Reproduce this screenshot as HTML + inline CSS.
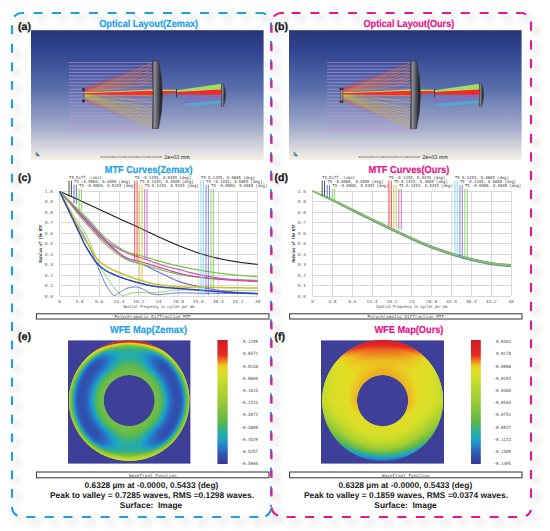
<!DOCTYPE html>
<html><head><meta charset="utf-8"><title>Figure</title><style>
html,body{margin:0;padding:0;background:#fff;}
#root{position:relative;width:550px;height:531px;overflow:hidden;background:#fff;}
#root svg{position:absolute;left:0;top:0;}
#root canvas{position:absolute;}
</style></head><body><div id="root"><svg width="550" height="531" viewBox="0 0 550 531" text-rendering="geometricPrecision">
<defs>
 <linearGradient id="bg" x1="0" y1="0" x2="0" y2="1">
  <stop offset="0" stop-color="#2a377a"/>
  <stop offset="0.15" stop-color="#2f4390"/>
  <stop offset="0.45" stop-color="#5a6fac"/>
  <stop offset="0.75" stop-color="#a3abca"/>
  <stop offset="0.92" stop-color="#dcdbe0"/>
  <stop offset="1" stop-color="#f4f1e6"/>
 </linearGradient>
 <linearGradient id="mir" x1="0" y1="0" x2="1" y2="0">
  <stop offset="0" stop-color="#3c3c44"/>
  <stop offset="0.22" stop-color="#8e8e96"/>
  <stop offset="0.4" stop-color="#6e6e76"/>
  <stop offset="0.7" stop-color="#3a3a42"/>
  <stop offset="1" stop-color="#18181d"/>
 </linearGradient>
 <linearGradient id="cbar" x1="0" y1="0" x2="0" y2="1">
  <stop offset="0.000" stop-color="rgb(200,28,40)"/>
  <stop offset="0.060" stop-color="rgb(222,32,34)"/>
  <stop offset="0.120" stop-color="rgb(228,42,36)"/>
  <stop offset="0.160" stop-color="rgb(240,110,32)"/>
  <stop offset="0.200" stop-color="rgb(236,190,32)"/>
  <stop offset="0.230" stop-color="rgb(228,220,36)"/>
  <stop offset="0.300" stop-color="rgb(210,222,40)"/>
  <stop offset="0.380" stop-color="rgb(184,214,44)"/>
  <stop offset="0.470" stop-color="rgb(164,206,52)"/>
  <stop offset="0.570" stop-color="rgb(128,194,62)"/>
  <stop offset="0.670" stop-color="rgb(90,182,80)"/>
  <stop offset="0.730" stop-color="rgb(48,176,144)"/>
  <stop offset="0.780" stop-color="rgb(32,168,184)"/>
  <stop offset="0.830" stop-color="rgb(32,144,208)"/>
  <stop offset="0.880" stop-color="rgb(40,112,192)"/>
  <stop offset="0.930" stop-color="rgb(48,80,176)"/>
  <stop offset="1.000" stop-color="rgb(58,58,152)"/>
 </linearGradient>
 <radialGradient id="wfeE" cx="0.5" cy="0.5" r="0.5" gradientUnits="objectBoundingBox">
  <stop offset="0.42" stop-color="#6cbf44"/>
  <stop offset="0.6" stop-color="#30b0a0"/>
  <stop offset="0.75" stop-color="#2a78c8"/>
  <stop offset="0.88" stop-color="#40b480"/>
  <stop offset="0.95" stop-color="#98cc38"/>
  <stop offset="1" stop-color="#c8d830"/>
 </radialGradient>
 <radialGradient id="wfeF" cx="0.5" cy="-0.25" r="1.3" gradientUnits="objectBoundingBox">
  <stop offset="0.19" stop-color="#d81c24"/>
  <stop offset="0.28" stop-color="#f07a20"/>
  <stop offset="0.38" stop-color="#e8dc24"/>
  <stop offset="0.6" stop-color="#dcdc28"/>
  <stop offset="0.7" stop-color="#b8d42c"/>
  <stop offset="0.8" stop-color="#70c040"/>
  <stop offset="0.88" stop-color="#20a8c8"/>
  <stop offset="0.96" stop-color="#3a50b0"/>
 </radialGradient>
 <filter id="blur4" x="-50%" y="-50%" width="200%" height="200%"><feGaussianBlur stdDeviation="3"/></filter>
 <clipPath id="annE"><path d="M68.9,400.6 a60.3,60.3 0 1,0 120.6,0 a60.3,60.3 0 1,0 -120.6,0 Z M103.7,400.6 a25.5,25.5 0 1,1 51,0 a25.5,25.5 0 1,1 -51,0 Z" clip-rule="evenodd"/></clipPath>
 <filter id="blur3" x="-10%" y="-10%" width="120%" height="120%"><feGaussianBlur stdDeviation="3.6"/></filter>
</defs>

<g transform="translate(5,5)" filter="url(#blur3)" opacity="0.3"><line x1="33.5" y1="13" x2="261" y2="13" stroke="#9a9a9a" stroke-width="5" stroke-dasharray="9.0 9.50"/><line x1="12" y1="25.3" x2="12" y2="507" stroke="#9a9a9a" stroke-width="5" stroke-dasharray="8.8 9.75"/><line x1="26.2" y1="517" x2="261" y2="517" stroke="#9a9a9a" stroke-width="5" stroke-dasharray="9.0 9.60"/><line x1="271" y1="22.4" x2="271" y2="507" stroke="#9a9a9a" stroke-width="5" stroke-dasharray="9.0 9.55"/><path d="M14.34,16.57 A10,10 0 0 1 22,13 L24,13" fill="none" stroke="#9a9a9a" stroke-width="5"/><path d="M256,13 L261,13 A10,10 0 0 1 266,14.34" fill="none" stroke="#9a9a9a" stroke-width="5"/><path d="M12,507 A10,10 0 0 0 17.5,515.8" fill="none" stroke="#9a9a9a" stroke-width="5"/><path d="M265.5,516.2 A10,10 0 0 0 271,509" fill="none" stroke="#9a9a9a" stroke-width="5"/><line x1="291.6" y1="13" x2="521" y2="13" stroke="#9a9a9a" stroke-width="5" stroke-dasharray="9.0 9.80"/><line x1="531" y1="21.6" x2="531" y2="507" stroke="#9a9a9a" stroke-width="5" stroke-dasharray="9.2 9.48"/><line x1="286.6" y1="517" x2="521" y2="517" stroke="#9a9a9a" stroke-width="5" stroke-dasharray="9.0 9.46"/><line x1="271.5" y1="24.7" x2="271.5" y2="507" stroke="#9a9a9a" stroke-width="5" stroke-dasharray="8.0 10.55"/><path d="M273.84,16.57 A10,10 0 0 1 281.5,13 L284,13" fill="none" stroke="#9a9a9a" stroke-width="5"/><path d="M516,13 L521,13 A10,10 0 0 1 526,14.34" fill="none" stroke="#9a9a9a" stroke-width="5"/><path d="M271.5,507.5 A10,10 0 0 0 278,515.6" fill="none" stroke="#9a9a9a" stroke-width="5"/><path d="M526,516 A10,10 0 0 0 531,510" fill="none" stroke="#9a9a9a" stroke-width="5"/></g>
<line x1="33.5" y1="13" x2="261" y2="13" stroke="#1c9fe3" stroke-width="2.1" stroke-dasharray="9.0 9.50"/><line x1="12" y1="25.3" x2="12" y2="507" stroke="#1c9fe3" stroke-width="2.1" stroke-dasharray="8.8 9.75"/><line x1="26.2" y1="517" x2="261" y2="517" stroke="#1c9fe3" stroke-width="2.1" stroke-dasharray="9.0 9.60"/><line x1="271" y1="22.4" x2="271" y2="507" stroke="#1c9fe3" stroke-width="2.1" stroke-dasharray="9.0 9.55"/><path d="M14.34,16.57 A10,10 0 0 1 22,13 L24,13" fill="none" stroke="#1c9fe3" stroke-width="2.1"/><path d="M256,13 L261,13 A10,10 0 0 1 266,14.34" fill="none" stroke="#1c9fe3" stroke-width="2.1"/><path d="M12,507 A10,10 0 0 0 17.5,515.8" fill="none" stroke="#1c9fe3" stroke-width="2.1"/><path d="M265.5,516.2 A10,10 0 0 0 271,509" fill="none" stroke="#1c9fe3" stroke-width="2.1"/>
<line x1="291.6" y1="13" x2="521" y2="13" stroke="#e6168c" stroke-width="2.1" stroke-dasharray="9.0 9.80"/><line x1="531" y1="21.6" x2="531" y2="507" stroke="#e6168c" stroke-width="2.1" stroke-dasharray="9.2 9.48"/><line x1="286.6" y1="517" x2="521" y2="517" stroke="#e6168c" stroke-width="2.1" stroke-dasharray="9.0 9.46"/><line x1="271.5" y1="24.7" x2="271.5" y2="507" stroke="#e6168c" stroke-width="2.1" stroke-dasharray="8.0 10.55"/><path d="M273.84,16.57 A10,10 0 0 1 281.5,13 L284,13" fill="none" stroke="#e6168c" stroke-width="2.1"/><path d="M516,13 L521,13 A10,10 0 0 1 526,14.34" fill="none" stroke="#e6168c" stroke-width="2.1"/><path d="M271.5,507.5 A10,10 0 0 0 278,515.6" fill="none" stroke="#e6168c" stroke-width="2.1"/><path d="M526,516 A10,10 0 0 0 531,510" fill="none" stroke="#e6168c" stroke-width="2.1"/>
<text x="18" y="30" font-family="Liberation Sans, sans-serif" font-weight="bold" font-size="10.6" fill="#1a1a1a" stroke="#1a1a1a" stroke-width="0.3">(a)</text>
<text x="274.5" y="30" font-family="Liberation Sans, sans-serif" font-weight="bold" font-size="10.6" fill="#1a1a1a" stroke="#1a1a1a" stroke-width="0.3">(b)</text>
<text x="18" y="181.1" font-family="Liberation Sans, sans-serif" font-weight="bold" font-size="10.6" fill="#1a1a1a" stroke="#1a1a1a" stroke-width="0.3">(c)</text>
<text x="274.5" y="181.1" font-family="Liberation Sans, sans-serif" font-weight="bold" font-size="10.6" fill="#1a1a1a" stroke="#1a1a1a" stroke-width="0.3">(d)</text>
<text x="18" y="340" font-family="Liberation Sans, sans-serif" font-weight="bold" font-size="10.6" fill="#1a1a1a" stroke="#1a1a1a" stroke-width="0.3">(e)</text>
<text x="274.5" y="340" font-family="Liberation Sans, sans-serif" font-weight="bold" font-size="10.6" fill="#1a1a1a" stroke="#1a1a1a" stroke-width="0.3">(f)</text>
<text x="99.2" y="27.4" font-family="Liberation Sans, sans-serif" font-weight="bold" font-size="10.2" fill="#1ea2e6" stroke="#1ea2e6" stroke-width="0.2" textLength="99.0" lengthAdjust="spacingAndGlyphs">Optical Layout(Zemax)</text>
<text x="363.5" y="27.4" font-family="Liberation Sans, sans-serif" font-weight="bold" font-size="10.2" fill="#e6168c" stroke="#e6168c" stroke-width="0.2" textLength="90.8" lengthAdjust="spacingAndGlyphs">Optical Layout(Ours)</text>
<text x="104.8" y="172.5" font-family="Liberation Sans, sans-serif" font-weight="bold" font-size="10.2" fill="#1ea2e6" stroke="#1ea2e6" stroke-width="0.2" textLength="87.8" lengthAdjust="spacingAndGlyphs">MTF Curves(Zemax)</text>
<text x="368.5" y="172.5" font-family="Liberation Sans, sans-serif" font-weight="bold" font-size="10.2" fill="#e6168c" stroke="#e6168c" stroke-width="0.2" textLength="80.8" lengthAdjust="spacingAndGlyphs">MTF Curves(Ours)</text>
<text x="110" y="333.1" font-family="Liberation Sans, sans-serif" font-weight="bold" font-size="10.2" fill="#1ea2e6" stroke="#1ea2e6" stroke-width="0.2" textLength="77.0" lengthAdjust="spacingAndGlyphs">WFE Map(Zemax)</text>
<text x="374.4" y="333.1" font-family="Liberation Sans, sans-serif" font-weight="bold" font-size="10.2" fill="#e6168c" stroke="#e6168c" stroke-width="0.2" textLength="69.0" lengthAdjust="spacingAndGlyphs">WFE Map(Ours)</text>
<rect x="31" y="30.5" width="232.60000000000002" height="129.5" fill="url(#bg)"/>
<line x1="31" y1="30.8" x2="263.6" y2="30.8" stroke="#2a2d60" stroke-width="0.8"/>
<g transform="translate(0,0)"><line x1="69" y1="62.60" x2="153.5" y2="62.60" stroke="#c494dc" stroke-width="0.7" opacity="0.9"/><line x1="69" y1="65.92" x2="153.5" y2="65.92" stroke="#b09ce4" stroke-width="0.7" opacity="0.9"/><line x1="69" y1="69.24" x2="153.5" y2="69.24" stroke="#c494dc" stroke-width="0.7" opacity="0.9"/><line x1="69" y1="72.56" x2="153.5" y2="72.56" stroke="#b09ce4" stroke-width="0.7" opacity="0.9"/><line x1="69" y1="75.88" x2="153.5" y2="75.88" stroke="#c494dc" stroke-width="0.7" opacity="0.9"/><line x1="69" y1="79.20" x2="153.5" y2="79.20" stroke="#b09ce4" stroke-width="0.7" opacity="0.9"/><line x1="69" y1="82.52" x2="153.5" y2="82.52" stroke="#c494dc" stroke-width="0.7" opacity="0.9"/><line x1="69" y1="85.84" x2="153.5" y2="85.84" stroke="#b09ce4" stroke-width="0.7" opacity="0.9"/><line x1="69" y1="89.16" x2="153.5" y2="89.16" stroke="#c494dc" stroke-width="0.7" opacity="0.9"/><line x1="69" y1="92.48" x2="153.5" y2="92.48" stroke="#b09ce4" stroke-width="0.7" opacity="0.9"/><line x1="69" y1="95.80" x2="153.5" y2="95.80" stroke="#c494dc" stroke-width="0.7" opacity="0.9"/><line x1="69" y1="99.12" x2="153.5" y2="99.12" stroke="#b09ce4" stroke-width="0.7" opacity="0.9"/><line x1="69" y1="102.44" x2="153.5" y2="102.44" stroke="#c494dc" stroke-width="0.7" opacity="0.9"/><line x1="69" y1="105.76" x2="153.5" y2="105.76" stroke="#b09ce4" stroke-width="0.7" opacity="0.9"/><line x1="69" y1="109.08" x2="153.5" y2="109.08" stroke="#c494dc" stroke-width="0.7" opacity="0.9"/><line x1="69" y1="112.40" x2="153.5" y2="112.40" stroke="#b09ce4" stroke-width="0.7" opacity="0.9"/><line x1="69" y1="115.72" x2="153.5" y2="115.72" stroke="#c494dc" stroke-width="0.7" opacity="0.9"/><line x1="69" y1="119.04" x2="153.5" y2="119.04" stroke="#b09ce4" stroke-width="0.7" opacity="0.9"/><line x1="69" y1="122.36" x2="153.5" y2="122.36" stroke="#c494dc" stroke-width="0.7" opacity="0.9"/><line x1="69" y1="125.68" x2="153.5" y2="125.68" stroke="#b09ce4" stroke-width="0.7" opacity="0.9"/><line x1="69" y1="129.00" x2="153.5" y2="129.00" stroke="#c494dc" stroke-width="0.7" opacity="0.9"/><line x1="153.5" y1="62.60" x2="85" y2="88.17" stroke="#ff3030" stroke-width="0.45" opacity="0.75"/><line x1="153.5" y1="65.92" x2="85" y2="88.57" stroke="#ff3030" stroke-width="0.45" opacity="0.75"/><line x1="153.5" y1="69.24" x2="85" y2="88.97" stroke="#ff3030" stroke-width="0.45" opacity="0.75"/><line x1="153.5" y1="72.56" x2="85" y2="89.37" stroke="#ff3030" stroke-width="0.45" opacity="0.75"/><line x1="153.5" y1="75.88" x2="85" y2="89.77" stroke="#ff3030" stroke-width="0.45" opacity="0.75"/><line x1="153.5" y1="79.20" x2="85" y2="90.16" stroke="#ff3030" stroke-width="0.45" opacity="0.75"/><line x1="153.5" y1="82.52" x2="85" y2="90.56" stroke="#ff3030" stroke-width="0.45" opacity="0.75"/><line x1="153.5" y1="89.16" x2="85" y2="91.36" stroke="#ff3030" stroke-width="0.45" opacity="0.75"/><line x1="153.5" y1="95.80" x2="85" y2="92.16" stroke="#d8d840" stroke-width="0.45" opacity="0.75"/><line x1="153.5" y1="102.44" x2="85" y2="92.95" stroke="#d8d840" stroke-width="0.45" opacity="0.75"/><line x1="153.5" y1="109.08" x2="85" y2="93.75" stroke="#d8d840" stroke-width="0.45" opacity="0.75"/><line x1="153.5" y1="112.40" x2="85" y2="94.15" stroke="#d8d840" stroke-width="0.45" opacity="0.75"/><line x1="153.5" y1="115.72" x2="85" y2="94.55" stroke="#d8d840" stroke-width="0.45" opacity="0.75"/><line x1="153.5" y1="119.04" x2="85" y2="94.94" stroke="#d8d840" stroke-width="0.45" opacity="0.75"/><line x1="153.5" y1="122.36" x2="85" y2="95.34" stroke="#d8d840" stroke-width="0.45" opacity="0.75"/><line x1="153.5" y1="125.68" x2="85" y2="95.74" stroke="#d8d840" stroke-width="0.45" opacity="0.75"/><line x1="153.5" y1="129.00" x2="85" y2="96.14" stroke="#d8d840" stroke-width="0.45" opacity="0.75"/><line x1="153.5" y1="62.60" x2="85" y2="93.17" stroke="#f0c838" stroke-width="0.45" opacity="0.55"/><line x1="153.5" y1="65.92" x2="85" y2="93.57" stroke="#f0c838" stroke-width="0.45" opacity="0.55"/><line x1="153.5" y1="69.24" x2="85" y2="93.97" stroke="#f0c838" stroke-width="0.45" opacity="0.55"/><line x1="153.5" y1="72.56" x2="85" y2="94.37" stroke="#f0c838" stroke-width="0.45" opacity="0.55"/><line x1="153.5" y1="75.88" x2="85" y2="94.77" stroke="#f0c838" stroke-width="0.45" opacity="0.55"/><line x1="153.5" y1="79.20" x2="85" y2="95.16" stroke="#f0c838" stroke-width="0.45" opacity="0.55"/><line x1="153.5" y1="82.52" x2="85" y2="95.56" stroke="#f0c838" stroke-width="0.45" opacity="0.55"/><line x1="153.5" y1="89.16" x2="85" y2="96.36" stroke="#f0c838" stroke-width="0.45" opacity="0.55"/><line x1="153.5" y1="95.80" x2="85" y2="97.16" stroke="#ff4030" stroke-width="0.45" opacity="0.55"/><line x1="153.5" y1="102.44" x2="85" y2="97.95" stroke="#ff4030" stroke-width="0.45" opacity="0.55"/><line x1="153.5" y1="109.08" x2="85" y2="98.75" stroke="#ff4030" stroke-width="0.45" opacity="0.55"/><line x1="153.5" y1="112.40" x2="85" y2="99.15" stroke="#ff4030" stroke-width="0.45" opacity="0.55"/><line x1="153.5" y1="115.72" x2="85" y2="99.55" stroke="#ff4030" stroke-width="0.45" opacity="0.55"/><line x1="153.5" y1="119.04" x2="85" y2="99.94" stroke="#ff4030" stroke-width="0.45" opacity="0.55"/><line x1="153.5" y1="122.36" x2="85" y2="100.34" stroke="#ff4030" stroke-width="0.45" opacity="0.55"/><line x1="153.5" y1="125.68" x2="85" y2="100.74" stroke="#ff4030" stroke-width="0.45" opacity="0.55"/><line x1="153.5" y1="129.00" x2="85" y2="101.14" stroke="#ff4030" stroke-width="0.45" opacity="0.55"/><line x1="153.5" y1="62.60" x2="85" y2="90.67" stroke="#ff7030" stroke-width="0.45" opacity="0.45"/><line x1="153.5" y1="65.92" x2="85" y2="91.07" stroke="#ff7030" stroke-width="0.45" opacity="0.45"/><line x1="153.5" y1="69.24" x2="85" y2="91.47" stroke="#ff7030" stroke-width="0.45" opacity="0.45"/><line x1="153.5" y1="72.56" x2="85" y2="91.87" stroke="#ff7030" stroke-width="0.45" opacity="0.45"/><line x1="153.5" y1="75.88" x2="85" y2="92.27" stroke="#ff7030" stroke-width="0.45" opacity="0.45"/><line x1="153.5" y1="79.20" x2="85" y2="92.66" stroke="#ff7030" stroke-width="0.45" opacity="0.45"/><line x1="153.5" y1="82.52" x2="85" y2="93.06" stroke="#ff7030" stroke-width="0.45" opacity="0.45"/><line x1="153.5" y1="89.16" x2="85" y2="93.86" stroke="#ff7030" stroke-width="0.45" opacity="0.45"/><line x1="153.5" y1="95.80" x2="85" y2="94.66" stroke="#a8e040" stroke-width="0.45" opacity="0.45"/><line x1="153.5" y1="102.44" x2="85" y2="95.45" stroke="#a8e040" stroke-width="0.45" opacity="0.45"/><line x1="153.5" y1="109.08" x2="85" y2="96.25" stroke="#a8e040" stroke-width="0.45" opacity="0.45"/><line x1="153.5" y1="112.40" x2="85" y2="96.65" stroke="#a8e040" stroke-width="0.45" opacity="0.45"/><line x1="153.5" y1="115.72" x2="85" y2="97.05" stroke="#a8e040" stroke-width="0.45" opacity="0.45"/><line x1="153.5" y1="119.04" x2="85" y2="97.44" stroke="#a8e040" stroke-width="0.45" opacity="0.45"/><line x1="153.5" y1="122.36" x2="85" y2="97.84" stroke="#a8e040" stroke-width="0.45" opacity="0.45"/><line x1="153.5" y1="125.68" x2="85" y2="98.24" stroke="#a8e040" stroke-width="0.45" opacity="0.45"/><line x1="153.5" y1="129.00" x2="85" y2="98.64" stroke="#a8e040" stroke-width="0.45" opacity="0.45"/><polygon points="85,92.6 153,89.4 177,89.8 177,91.0 153,91.0 85,93.3" fill="#b0dc58"/><polygon points="85,93.3 153,91.0 177,91.0 177,92.8 153,95.2 85,94.6" fill="#ff2a20"/><path d="M152.4,61 L158.6,61 Q166.2,94.8 158.6,128.6 L152.4,128.6 Q153.6,94.8 152.4,61 Z" fill="url(#mir)" stroke="#2a2a30" stroke-width="0.5"/><rect x="82.2" y="88.2" width="2.6" height="3.0" fill="#2c2c34"/><rect x="82.2" y="99.4" width="2.6" height="3.0" fill="#2c2c34"/><rect x="82.6" y="93.6" width="1.8" height="3.6" fill="#666" opacity="0.8"/><line x1="176.6" y1="89" x2="176.6" y2="97.5" stroke="#333" stroke-width="1"/><polygon points="177,90.2 221.5,83.8 221.5,90 177,92.2" fill="#a0dc68"/><polygon points="177,92.0 221.5,89.6 221.5,94.8 177.5,94.6" fill="#ff2424"/><line x1="221.5" y1="95.6" x2="178" y2="97.2" stroke="#9070d8" stroke-width="0.52" opacity="0.85"/><line x1="221.5" y1="96.4" x2="184" y2="102.4" stroke="#d040b0" stroke-width="0.60" opacity="0.85"/><line x1="221.5" y1="97.4" x2="186" y2="101.6" stroke="#d850b8" stroke-width="0.52" opacity="0.85"/><line x1="221.5" y1="98.4" x2="180" y2="99.0" stroke="#7a6ae0" stroke-width="0.45" opacity="0.85"/><line x1="221.5" y1="99.6" x2="182" y2="103.2" stroke="#5a78e0" stroke-width="0.45" opacity="0.85"/><line x1="221.5" y1="100.6" x2="183" y2="104.6" stroke="#30d0e0" stroke-width="0.68" opacity="0.85"/><line x1="221.5" y1="101.6" x2="186" y2="105.6" stroke="#40c8f0" stroke-width="0.60" opacity="0.85"/><line x1="221.5" y1="102.4" x2="190" y2="106.2" stroke="#38d8e8" stroke-width="0.52" opacity="0.85"/><path d="M221.2,83.6 L223.6,83.6 Q227.6,95 223.6,106.4 L221.2,106.4 Q222.4,95 221.2,83.6 Z" fill="url(#mir)" stroke="#333" stroke-width="0.4"/><rect x="35.6" y="151.8" width="1.3" height="4" fill="#58b040"/><polygon points="37,156.2 40.2,156.2 37.2,152.6" fill="#5468d0"/><line x1="101" y1="157" x2="162" y2="157" stroke="#555" stroke-width="0.6"/><line x1="101" y1="156.2" x2="101" y2="157.8" stroke="#555" stroke-width="0.5"/><line x1="113" y1="156.2" x2="113" y2="157.8" stroke="#555" stroke-width="0.5"/><line x1="125" y1="156.2" x2="125" y2="157.8" stroke="#555" stroke-width="0.5"/><line x1="137" y1="156.2" x2="137" y2="157.8" stroke="#555" stroke-width="0.5"/><line x1="149" y1="156.2" x2="149" y2="157.8" stroke="#555" stroke-width="0.5"/><line x1="161" y1="156.2" x2="161" y2="157.8" stroke="#555" stroke-width="0.5"/><text x="164.2" y="158.8" font-family="Liberation Sans, sans-serif" font-size="5.4" fill="#222">2e+03 mm</text></g>
<rect x="289" y="30.5" width="232.60000000000002" height="129.5" fill="url(#bg)"/>
<line x1="289" y1="30.8" x2="521.6" y2="30.8" stroke="#2a2d60" stroke-width="0.8"/>
<g transform="translate(258,0)"><line x1="69" y1="62.60" x2="153.5" y2="62.60" stroke="#c494dc" stroke-width="0.7" opacity="0.9"/><line x1="69" y1="65.92" x2="153.5" y2="65.92" stroke="#b09ce4" stroke-width="0.7" opacity="0.9"/><line x1="69" y1="69.24" x2="153.5" y2="69.24" stroke="#c494dc" stroke-width="0.7" opacity="0.9"/><line x1="69" y1="72.56" x2="153.5" y2="72.56" stroke="#b09ce4" stroke-width="0.7" opacity="0.9"/><line x1="69" y1="75.88" x2="153.5" y2="75.88" stroke="#c494dc" stroke-width="0.7" opacity="0.9"/><line x1="69" y1="79.20" x2="153.5" y2="79.20" stroke="#b09ce4" stroke-width="0.7" opacity="0.9"/><line x1="69" y1="82.52" x2="153.5" y2="82.52" stroke="#c494dc" stroke-width="0.7" opacity="0.9"/><line x1="69" y1="85.84" x2="153.5" y2="85.84" stroke="#b09ce4" stroke-width="0.7" opacity="0.9"/><line x1="69" y1="89.16" x2="153.5" y2="89.16" stroke="#c494dc" stroke-width="0.7" opacity="0.9"/><line x1="69" y1="92.48" x2="153.5" y2="92.48" stroke="#b09ce4" stroke-width="0.7" opacity="0.9"/><line x1="69" y1="95.80" x2="153.5" y2="95.80" stroke="#c494dc" stroke-width="0.7" opacity="0.9"/><line x1="69" y1="99.12" x2="153.5" y2="99.12" stroke="#b09ce4" stroke-width="0.7" opacity="0.9"/><line x1="69" y1="102.44" x2="153.5" y2="102.44" stroke="#c494dc" stroke-width="0.7" opacity="0.9"/><line x1="69" y1="105.76" x2="153.5" y2="105.76" stroke="#b09ce4" stroke-width="0.7" opacity="0.9"/><line x1="69" y1="109.08" x2="153.5" y2="109.08" stroke="#c494dc" stroke-width="0.7" opacity="0.9"/><line x1="69" y1="112.40" x2="153.5" y2="112.40" stroke="#b09ce4" stroke-width="0.7" opacity="0.9"/><line x1="69" y1="115.72" x2="153.5" y2="115.72" stroke="#c494dc" stroke-width="0.7" opacity="0.9"/><line x1="69" y1="119.04" x2="153.5" y2="119.04" stroke="#b09ce4" stroke-width="0.7" opacity="0.9"/><line x1="69" y1="122.36" x2="153.5" y2="122.36" stroke="#c494dc" stroke-width="0.7" opacity="0.9"/><line x1="69" y1="125.68" x2="153.5" y2="125.68" stroke="#b09ce4" stroke-width="0.7" opacity="0.9"/><line x1="69" y1="129.00" x2="153.5" y2="129.00" stroke="#c494dc" stroke-width="0.7" opacity="0.9"/><line x1="153.5" y1="62.60" x2="85" y2="88.17" stroke="#ff3030" stroke-width="0.45" opacity="0.75"/><line x1="153.5" y1="65.92" x2="85" y2="88.57" stroke="#ff3030" stroke-width="0.45" opacity="0.75"/><line x1="153.5" y1="69.24" x2="85" y2="88.97" stroke="#ff3030" stroke-width="0.45" opacity="0.75"/><line x1="153.5" y1="72.56" x2="85" y2="89.37" stroke="#ff3030" stroke-width="0.45" opacity="0.75"/><line x1="153.5" y1="75.88" x2="85" y2="89.77" stroke="#ff3030" stroke-width="0.45" opacity="0.75"/><line x1="153.5" y1="79.20" x2="85" y2="90.16" stroke="#ff3030" stroke-width="0.45" opacity="0.75"/><line x1="153.5" y1="82.52" x2="85" y2="90.56" stroke="#ff3030" stroke-width="0.45" opacity="0.75"/><line x1="153.5" y1="89.16" x2="85" y2="91.36" stroke="#ff3030" stroke-width="0.45" opacity="0.75"/><line x1="153.5" y1="95.80" x2="85" y2="92.16" stroke="#d8d840" stroke-width="0.45" opacity="0.75"/><line x1="153.5" y1="102.44" x2="85" y2="92.95" stroke="#d8d840" stroke-width="0.45" opacity="0.75"/><line x1="153.5" y1="109.08" x2="85" y2="93.75" stroke="#d8d840" stroke-width="0.45" opacity="0.75"/><line x1="153.5" y1="112.40" x2="85" y2="94.15" stroke="#d8d840" stroke-width="0.45" opacity="0.75"/><line x1="153.5" y1="115.72" x2="85" y2="94.55" stroke="#d8d840" stroke-width="0.45" opacity="0.75"/><line x1="153.5" y1="119.04" x2="85" y2="94.94" stroke="#d8d840" stroke-width="0.45" opacity="0.75"/><line x1="153.5" y1="122.36" x2="85" y2="95.34" stroke="#d8d840" stroke-width="0.45" opacity="0.75"/><line x1="153.5" y1="125.68" x2="85" y2="95.74" stroke="#d8d840" stroke-width="0.45" opacity="0.75"/><line x1="153.5" y1="129.00" x2="85" y2="96.14" stroke="#d8d840" stroke-width="0.45" opacity="0.75"/><line x1="153.5" y1="62.60" x2="85" y2="93.17" stroke="#f0c838" stroke-width="0.45" opacity="0.55"/><line x1="153.5" y1="65.92" x2="85" y2="93.57" stroke="#f0c838" stroke-width="0.45" opacity="0.55"/><line x1="153.5" y1="69.24" x2="85" y2="93.97" stroke="#f0c838" stroke-width="0.45" opacity="0.55"/><line x1="153.5" y1="72.56" x2="85" y2="94.37" stroke="#f0c838" stroke-width="0.45" opacity="0.55"/><line x1="153.5" y1="75.88" x2="85" y2="94.77" stroke="#f0c838" stroke-width="0.45" opacity="0.55"/><line x1="153.5" y1="79.20" x2="85" y2="95.16" stroke="#f0c838" stroke-width="0.45" opacity="0.55"/><line x1="153.5" y1="82.52" x2="85" y2="95.56" stroke="#f0c838" stroke-width="0.45" opacity="0.55"/><line x1="153.5" y1="89.16" x2="85" y2="96.36" stroke="#f0c838" stroke-width="0.45" opacity="0.55"/><line x1="153.5" y1="95.80" x2="85" y2="97.16" stroke="#ff4030" stroke-width="0.45" opacity="0.55"/><line x1="153.5" y1="102.44" x2="85" y2="97.95" stroke="#ff4030" stroke-width="0.45" opacity="0.55"/><line x1="153.5" y1="109.08" x2="85" y2="98.75" stroke="#ff4030" stroke-width="0.45" opacity="0.55"/><line x1="153.5" y1="112.40" x2="85" y2="99.15" stroke="#ff4030" stroke-width="0.45" opacity="0.55"/><line x1="153.5" y1="115.72" x2="85" y2="99.55" stroke="#ff4030" stroke-width="0.45" opacity="0.55"/><line x1="153.5" y1="119.04" x2="85" y2="99.94" stroke="#ff4030" stroke-width="0.45" opacity="0.55"/><line x1="153.5" y1="122.36" x2="85" y2="100.34" stroke="#ff4030" stroke-width="0.45" opacity="0.55"/><line x1="153.5" y1="125.68" x2="85" y2="100.74" stroke="#ff4030" stroke-width="0.45" opacity="0.55"/><line x1="153.5" y1="129.00" x2="85" y2="101.14" stroke="#ff4030" stroke-width="0.45" opacity="0.55"/><line x1="153.5" y1="62.60" x2="85" y2="90.67" stroke="#ff7030" stroke-width="0.45" opacity="0.45"/><line x1="153.5" y1="65.92" x2="85" y2="91.07" stroke="#ff7030" stroke-width="0.45" opacity="0.45"/><line x1="153.5" y1="69.24" x2="85" y2="91.47" stroke="#ff7030" stroke-width="0.45" opacity="0.45"/><line x1="153.5" y1="72.56" x2="85" y2="91.87" stroke="#ff7030" stroke-width="0.45" opacity="0.45"/><line x1="153.5" y1="75.88" x2="85" y2="92.27" stroke="#ff7030" stroke-width="0.45" opacity="0.45"/><line x1="153.5" y1="79.20" x2="85" y2="92.66" stroke="#ff7030" stroke-width="0.45" opacity="0.45"/><line x1="153.5" y1="82.52" x2="85" y2="93.06" stroke="#ff7030" stroke-width="0.45" opacity="0.45"/><line x1="153.5" y1="89.16" x2="85" y2="93.86" stroke="#ff7030" stroke-width="0.45" opacity="0.45"/><line x1="153.5" y1="95.80" x2="85" y2="94.66" stroke="#a8e040" stroke-width="0.45" opacity="0.45"/><line x1="153.5" y1="102.44" x2="85" y2="95.45" stroke="#a8e040" stroke-width="0.45" opacity="0.45"/><line x1="153.5" y1="109.08" x2="85" y2="96.25" stroke="#a8e040" stroke-width="0.45" opacity="0.45"/><line x1="153.5" y1="112.40" x2="85" y2="96.65" stroke="#a8e040" stroke-width="0.45" opacity="0.45"/><line x1="153.5" y1="115.72" x2="85" y2="97.05" stroke="#a8e040" stroke-width="0.45" opacity="0.45"/><line x1="153.5" y1="119.04" x2="85" y2="97.44" stroke="#a8e040" stroke-width="0.45" opacity="0.45"/><line x1="153.5" y1="122.36" x2="85" y2="97.84" stroke="#a8e040" stroke-width="0.45" opacity="0.45"/><line x1="153.5" y1="125.68" x2="85" y2="98.24" stroke="#a8e040" stroke-width="0.45" opacity="0.45"/><line x1="153.5" y1="129.00" x2="85" y2="98.64" stroke="#a8e040" stroke-width="0.45" opacity="0.45"/><polygon points="85,92.6 153,89.4 177,89.8 177,91.0 153,91.0 85,93.3" fill="#b0dc58"/><polygon points="85,93.3 153,91.0 177,91.0 177,92.8 153,95.2 85,94.6" fill="#ff2a20"/><path d="M152.4,61 L158.6,61 Q166.2,94.8 158.6,128.6 L152.4,128.6 Q153.6,94.8 152.4,61 Z" fill="url(#mir)" stroke="#2a2a30" stroke-width="0.5"/><path d="M82,88 L85,88 L85,102.5 L82,102.5 Q83.2,95 82,88 Z" fill="#8a8a90" stroke="#333" stroke-width="0.4"/><rect x="81.8" y="88" width="3.4" height="2" fill="#333"/><rect x="81.8" y="100.5" width="3.4" height="2" fill="#333"/><line x1="176.6" y1="89" x2="176.6" y2="97.5" stroke="#333" stroke-width="1"/><polygon points="177,90.2 221.5,83.8 221.5,90 177,92.2" fill="#a0dc68"/><polygon points="177,92.0 221.5,89.6 221.5,94.8 177.5,94.6" fill="#ff2424"/><line x1="221.5" y1="95.6" x2="170" y2="97.2" stroke="#9070d8" stroke-width="0.52" opacity="0.85"/><line x1="221.5" y1="96.4" x2="176" y2="102.4" stroke="#d040b0" stroke-width="0.60" opacity="0.85"/><line x1="221.5" y1="97.4" x2="178" y2="101.6" stroke="#d850b8" stroke-width="0.52" opacity="0.85"/><line x1="221.5" y1="98.4" x2="172" y2="99.0" stroke="#7a6ae0" stroke-width="0.45" opacity="0.85"/><line x1="221.5" y1="99.6" x2="174" y2="103.2" stroke="#5a78e0" stroke-width="0.45" opacity="0.85"/><line x1="221.5" y1="100.6" x2="175" y2="104.6" stroke="#30d0e0" stroke-width="0.68" opacity="0.85"/><line x1="221.5" y1="101.6" x2="178" y2="105.6" stroke="#40c8f0" stroke-width="0.60" opacity="0.85"/><line x1="221.5" y1="102.4" x2="182" y2="106.2" stroke="#38d8e8" stroke-width="0.52" opacity="0.85"/><path d="M221.2,83.6 L223.6,83.6 Q227.6,95 223.6,106.4 L221.2,106.4 Q222.4,95 221.2,83.6 Z" fill="url(#mir)" stroke="#333" stroke-width="0.4"/><rect x="35.6" y="151.8" width="1.3" height="4" fill="#58b040"/><polygon points="37,156.2 40.2,156.2 37.2,152.6" fill="#5468d0"/><line x1="101" y1="157" x2="162" y2="157" stroke="#555" stroke-width="0.6"/><line x1="101" y1="156.2" x2="101" y2="157.8" stroke="#555" stroke-width="0.5"/><line x1="113" y1="156.2" x2="113" y2="157.8" stroke="#555" stroke-width="0.5"/><line x1="125" y1="156.2" x2="125" y2="157.8" stroke="#555" stroke-width="0.5"/><line x1="137" y1="156.2" x2="137" y2="157.8" stroke="#555" stroke-width="0.5"/><line x1="149" y1="156.2" x2="149" y2="157.8" stroke="#555" stroke-width="0.5"/><line x1="161" y1="156.2" x2="161" y2="157.8" stroke="#555" stroke-width="0.5"/><text x="164.2" y="158.8" font-family="Liberation Sans, sans-serif" font-size="5.4" fill="#222">2e+03 mm</text></g>
<line x1="59.50" y1="191.4" x2="59.50" y2="296" stroke="#dadada" stroke-width="1"/><line x1="59.6" y1="296.50" x2="257.8" y2="296.50" stroke="#dadada" stroke-width="1"/><line x1="79.50" y1="191.4" x2="79.50" y2="296" stroke="#dadada" stroke-width="1"/><line x1="59.6" y1="285.50" x2="257.8" y2="285.50" stroke="#dadada" stroke-width="1"/><line x1="99.50" y1="191.4" x2="99.50" y2="296" stroke="#dadada" stroke-width="1"/><line x1="59.6" y1="275.50" x2="257.8" y2="275.50" stroke="#dadada" stroke-width="1"/><line x1="119.50" y1="191.4" x2="119.50" y2="296" stroke="#dadada" stroke-width="1"/><line x1="59.6" y1="264.50" x2="257.8" y2="264.50" stroke="#dadada" stroke-width="1"/><line x1="138.50" y1="191.4" x2="138.50" y2="296" stroke="#dadada" stroke-width="1"/><line x1="59.6" y1="254.50" x2="257.8" y2="254.50" stroke="#dadada" stroke-width="1"/><line x1="158.50" y1="191.4" x2="158.50" y2="296" stroke="#dadada" stroke-width="1"/><line x1="59.6" y1="243.50" x2="257.8" y2="243.50" stroke="#dadada" stroke-width="1"/><line x1="178.50" y1="191.4" x2="178.50" y2="296" stroke="#dadada" stroke-width="1"/><line x1="59.6" y1="233.50" x2="257.8" y2="233.50" stroke="#dadada" stroke-width="1"/><line x1="198.50" y1="191.4" x2="198.50" y2="296" stroke="#dadada" stroke-width="1"/><line x1="59.6" y1="222.50" x2="257.8" y2="222.50" stroke="#dadada" stroke-width="1"/><line x1="218.50" y1="191.4" x2="218.50" y2="296" stroke="#dadada" stroke-width="1"/><line x1="59.6" y1="212.50" x2="257.8" y2="212.50" stroke="#dadada" stroke-width="1"/><line x1="237.50" y1="191.4" x2="237.50" y2="296" stroke="#dadada" stroke-width="1"/><line x1="59.6" y1="201.50" x2="257.8" y2="201.50" stroke="#dadada" stroke-width="1"/><line x1="257.50" y1="191.4" x2="257.50" y2="296" stroke="#dadada" stroke-width="1"/><line x1="59.6" y1="191.50" x2="257.8" y2="191.50" stroke="#dadada" stroke-width="1"/>
<text x="59.60" y="302.5" font-family="Liberation Mono, monospace" font-size="4.6" fill="#555" text-anchor="middle">0</text>
<text x="79.42" y="302.5" font-family="Liberation Mono, monospace" font-size="4.6" fill="#555" text-anchor="middle">4.8</text>
<text x="99.24" y="302.5" font-family="Liberation Mono, monospace" font-size="4.6" fill="#555" text-anchor="middle">9.6</text>
<text x="119.06" y="302.5" font-family="Liberation Mono, monospace" font-size="4.6" fill="#555" text-anchor="middle">14.4</text>
<text x="138.88" y="302.5" font-family="Liberation Mono, monospace" font-size="4.6" fill="#555" text-anchor="middle">19.2</text>
<text x="158.70" y="302.5" font-family="Liberation Mono, monospace" font-size="4.6" fill="#555" text-anchor="middle">24</text>
<text x="178.52" y="302.5" font-family="Liberation Mono, monospace" font-size="4.6" fill="#555" text-anchor="middle">28.8</text>
<text x="198.34" y="302.5" font-family="Liberation Mono, monospace" font-size="4.6" fill="#555" text-anchor="middle">33.6</text>
<text x="218.16" y="302.5" font-family="Liberation Mono, monospace" font-size="4.6" fill="#555" text-anchor="middle">38.4</text>
<text x="237.98" y="302.5" font-family="Liberation Mono, monospace" font-size="4.6" fill="#555" text-anchor="middle">43.2</text>
<text x="257.80" y="302.5" font-family="Liberation Mono, monospace" font-size="4.6" fill="#555" text-anchor="middle">48</text>
<text x="53.10" y="297.50" font-family="Liberation Mono, monospace" font-size="4.6" fill="#555" text-anchor="end">0.0</text>
<text x="53.10" y="287.04" font-family="Liberation Mono, monospace" font-size="4.6" fill="#555" text-anchor="end">0.1</text>
<text x="53.10" y="276.58" font-family="Liberation Mono, monospace" font-size="4.6" fill="#555" text-anchor="end">0.2</text>
<text x="53.10" y="266.12" font-family="Liberation Mono, monospace" font-size="4.6" fill="#555" text-anchor="end">0.3</text>
<text x="53.10" y="255.66" font-family="Liberation Mono, monospace" font-size="4.6" fill="#555" text-anchor="end">0.4</text>
<text x="53.10" y="245.20" font-family="Liberation Mono, monospace" font-size="4.6" fill="#555" text-anchor="end">0.5</text>
<text x="53.10" y="234.74" font-family="Liberation Mono, monospace" font-size="4.6" fill="#555" text-anchor="end">0.6</text>
<text x="53.10" y="224.28" font-family="Liberation Mono, monospace" font-size="4.6" fill="#555" text-anchor="end">0.7</text>
<text x="53.10" y="213.82" font-family="Liberation Mono, monospace" font-size="4.6" fill="#555" text-anchor="end">0.8</text>
<text x="53.10" y="203.36" font-family="Liberation Mono, monospace" font-size="4.6" fill="#555" text-anchor="end">0.9</text>
<text x="53.10" y="192.90" font-family="Liberation Mono, monospace" font-size="4.6" fill="#555" text-anchor="end">1.0</text>
<text x="158.70" y="308.0" font-family="Liberation Mono, monospace" font-size="4.4" fill="#444" text-anchor="middle" textLength="71" lengthAdjust="spacingAndGlyphs">Spatial Frequency in cycles per mm</text>
<text transform="translate(42.00,243.70) rotate(-90)" font-family="Liberation Mono, monospace" font-size="4.6" font-weight="bold" fill="#222" text-anchor="middle" textLength="38" lengthAdjust="spacingAndGlyphs">Modulus of the OTF</text>
<line x1="312.50" y1="191.0" x2="312.50" y2="296" stroke="#dadada" stroke-width="1"/><line x1="312.6" y1="296.50" x2="511" y2="296.50" stroke="#dadada" stroke-width="1"/><line x1="332.50" y1="191.0" x2="332.50" y2="296" stroke="#dadada" stroke-width="1"/><line x1="312.6" y1="285.50" x2="511" y2="285.50" stroke="#dadada" stroke-width="1"/><line x1="352.50" y1="191.0" x2="352.50" y2="296" stroke="#dadada" stroke-width="1"/><line x1="312.6" y1="275.50" x2="511" y2="275.50" stroke="#dadada" stroke-width="1"/><line x1="372.50" y1="191.0" x2="372.50" y2="296" stroke="#dadada" stroke-width="1"/><line x1="312.6" y1="264.50" x2="511" y2="264.50" stroke="#dadada" stroke-width="1"/><line x1="391.50" y1="191.0" x2="391.50" y2="296" stroke="#dadada" stroke-width="1"/><line x1="312.6" y1="254.50" x2="511" y2="254.50" stroke="#dadada" stroke-width="1"/><line x1="411.50" y1="191.0" x2="411.50" y2="296" stroke="#dadada" stroke-width="1"/><line x1="312.6" y1="243.50" x2="511" y2="243.50" stroke="#dadada" stroke-width="1"/><line x1="431.50" y1="191.0" x2="431.50" y2="296" stroke="#dadada" stroke-width="1"/><line x1="312.6" y1="233.50" x2="511" y2="233.50" stroke="#dadada" stroke-width="1"/><line x1="451.50" y1="191.0" x2="451.50" y2="296" stroke="#dadada" stroke-width="1"/><line x1="312.6" y1="222.50" x2="511" y2="222.50" stroke="#dadada" stroke-width="1"/><line x1="471.50" y1="191.0" x2="471.50" y2="296" stroke="#dadada" stroke-width="1"/><line x1="312.6" y1="212.50" x2="511" y2="212.50" stroke="#dadada" stroke-width="1"/><line x1="491.50" y1="191.0" x2="491.50" y2="296" stroke="#dadada" stroke-width="1"/><line x1="312.6" y1="201.50" x2="511" y2="201.50" stroke="#dadada" stroke-width="1"/><line x1="511.50" y1="191.0" x2="511.50" y2="296" stroke="#dadada" stroke-width="1"/><line x1="312.6" y1="191.50" x2="511" y2="191.50" stroke="#dadada" stroke-width="1"/>
<text x="312.60" y="302.5" font-family="Liberation Mono, monospace" font-size="4.6" fill="#555" text-anchor="middle">0</text>
<text x="332.44" y="302.5" font-family="Liberation Mono, monospace" font-size="4.6" fill="#555" text-anchor="middle">4.8</text>
<text x="352.28" y="302.5" font-family="Liberation Mono, monospace" font-size="4.6" fill="#555" text-anchor="middle">9.6</text>
<text x="372.12" y="302.5" font-family="Liberation Mono, monospace" font-size="4.6" fill="#555" text-anchor="middle">14.4</text>
<text x="391.96" y="302.5" font-family="Liberation Mono, monospace" font-size="4.6" fill="#555" text-anchor="middle">19.2</text>
<text x="411.80" y="302.5" font-family="Liberation Mono, monospace" font-size="4.6" fill="#555" text-anchor="middle">24</text>
<text x="431.64" y="302.5" font-family="Liberation Mono, monospace" font-size="4.6" fill="#555" text-anchor="middle">28.8</text>
<text x="451.48" y="302.5" font-family="Liberation Mono, monospace" font-size="4.6" fill="#555" text-anchor="middle">33.6</text>
<text x="471.32" y="302.5" font-family="Liberation Mono, monospace" font-size="4.6" fill="#555" text-anchor="middle">38.4</text>
<text x="491.16" y="302.5" font-family="Liberation Mono, monospace" font-size="4.6" fill="#555" text-anchor="middle">43.2</text>
<text x="511.00" y="302.5" font-family="Liberation Mono, monospace" font-size="4.6" fill="#555" text-anchor="middle">48</text>
<text x="306.10" y="297.50" font-family="Liberation Mono, monospace" font-size="4.6" fill="#555" text-anchor="end">0.0</text>
<text x="306.10" y="287.00" font-family="Liberation Mono, monospace" font-size="4.6" fill="#555" text-anchor="end">0.1</text>
<text x="306.10" y="276.50" font-family="Liberation Mono, monospace" font-size="4.6" fill="#555" text-anchor="end">0.2</text>
<text x="306.10" y="266.00" font-family="Liberation Mono, monospace" font-size="4.6" fill="#555" text-anchor="end">0.3</text>
<text x="306.10" y="255.50" font-family="Liberation Mono, monospace" font-size="4.6" fill="#555" text-anchor="end">0.4</text>
<text x="306.10" y="245.00" font-family="Liberation Mono, monospace" font-size="4.6" fill="#555" text-anchor="end">0.5</text>
<text x="306.10" y="234.50" font-family="Liberation Mono, monospace" font-size="4.6" fill="#555" text-anchor="end">0.6</text>
<text x="306.10" y="224.00" font-family="Liberation Mono, monospace" font-size="4.6" fill="#555" text-anchor="end">0.7</text>
<text x="306.10" y="213.50" font-family="Liberation Mono, monospace" font-size="4.6" fill="#555" text-anchor="end">0.8</text>
<text x="306.10" y="203.00" font-family="Liberation Mono, monospace" font-size="4.6" fill="#555" text-anchor="end">0.9</text>
<text x="306.10" y="192.50" font-family="Liberation Mono, monospace" font-size="4.6" fill="#555" text-anchor="end">1.0</text>
<text x="411.80" y="308.0" font-family="Liberation Mono, monospace" font-size="4.4" fill="#444" text-anchor="middle" textLength="71" lengthAdjust="spacingAndGlyphs">Spatial Frequency in cycles per mm</text>
<text transform="translate(295.00,243.50) rotate(-90)" font-family="Liberation Mono, monospace" font-size="4.6" font-weight="bold" fill="#222" text-anchor="middle" textLength="38" lengthAdjust="spacingAndGlyphs">Modulus of the OTF</text>
<path d="M59.60,191.40 L60.13,191.63 L60.80,191.93 L61.59,192.28 L62.47,192.67 L63.43,193.10 L64.45,193.55 L65.49,194.01 L66.54,194.48 L67.57,194.94 L68.57,195.38 L69.51,195.79 L70.37,196.17 L71.18,196.53 L71.94,196.86 L72.70,197.19 L73.46,197.52 L74.25,197.86 L75.09,198.23 L76.00,198.64 L77.02,199.09 L78.15,199.61 L79.42,200.19 L80.15,200.52 L80.92,200.88 L81.73,201.25 L82.58,201.64 L83.45,202.05 L84.36,202.47 L85.29,202.90 L86.25,203.34 L87.22,203.79 L88.21,204.26 L89.21,204.72 L90.23,205.19 L91.24,205.67 L92.27,206.14 L93.29,206.62 L94.31,207.10 L95.32,207.57 L96.32,208.03 L97.31,208.49 L98.29,208.95 L99.24,209.39 L100.18,209.83 L101.13,210.27 L102.07,210.71 L103.02,211.15 L103.96,211.59 L104.90,212.03 L105.85,212.47 L106.79,212.91 L107.73,213.35 L108.68,213.79 L109.62,214.23 L110.57,214.67 L111.51,215.11 L112.45,215.55 L113.40,215.99 L114.34,216.43 L115.28,216.86 L116.23,217.30 L117.17,217.73 L118.12,218.16 L119.06,218.60 L120.00,219.03 L120.95,219.45 L121.89,219.88 L122.84,220.30 L123.78,220.72 L124.72,221.14 L125.67,221.56 L126.61,221.98 L127.55,222.40 L128.50,222.82 L129.44,223.24 L130.39,223.66 L131.33,224.08 L132.27,224.50 L133.22,224.92 L134.16,225.34 L135.10,225.77 L136.05,226.19 L136.99,226.62 L137.94,227.05 L138.88,227.49 L139.82,227.92 L140.76,228.36 L141.70,228.81 L142.64,229.25 L143.57,229.70 L144.51,230.15 L145.44,230.60 L146.37,231.05 L147.31,231.50 L148.24,231.95 L149.18,232.41 L150.12,232.86 L151.06,233.31 L152.00,233.77 L152.95,234.22 L153.90,234.67 L154.85,235.12 L155.80,235.57 L156.76,236.01 L157.73,236.46 L158.70,236.90 L159.59,237.30 L160.49,237.71 L161.40,238.12 L162.32,238.53 L163.24,238.94 L164.17,239.35 L165.10,239.76 L166.03,240.18 L166.97,240.59 L167.90,241.00 L168.84,241.40 L169.77,241.81 L170.71,242.21 L171.64,242.61 L172.57,243.01 L173.49,243.40 L174.41,243.79 L175.32,244.17 L176.23,244.55 L177.12,244.92 L178.01,245.29 L178.89,245.65 L179.76,246.00 L180.74,246.40 L181.71,246.79 L182.67,247.17 L183.61,247.55 L184.55,247.92 L185.48,248.28 L186.40,248.64 L187.31,248.99 L188.22,249.34 L189.13,249.68 L190.03,250.02 L190.94,250.35 L191.84,250.68 L192.75,251.01 L193.67,251.33 L194.58,251.65 L195.51,251.97 L196.44,252.28 L197.39,252.60 L198.34,252.90 L199.26,253.20 L200.18,253.49 L201.11,253.77 L202.04,254.06 L202.97,254.34 L203.91,254.62 L204.85,254.89 L205.80,255.16 L206.75,255.43 L207.70,255.70 L208.65,255.96 L209.60,256.21 L210.55,256.47 L211.51,256.72 L212.46,256.96 L213.41,257.20 L214.37,257.44 L215.32,257.67 L216.27,257.90 L217.21,258.12 L218.16,258.34 L219.10,258.56 L220.05,258.77 L220.99,258.97 L221.94,259.17 L222.88,259.37 L223.82,259.56 L224.77,259.74 L225.71,259.92 L226.65,260.10 L227.60,260.28 L228.54,260.45 L229.49,260.62 L230.43,260.78 L231.37,260.94 L232.32,261.10 L233.26,261.26 L234.20,261.41 L235.15,261.56 L236.09,261.71 L237.04,261.86 L237.98,262.00 L238.95,262.15 L239.95,262.29 L240.98,262.44 L242.05,262.58 L243.13,262.72 L244.22,262.85 L245.32,262.99 L246.42,263.12 L247.51,263.25 L248.60,263.38 L249.66,263.50 L250.69,263.61 L251.70,263.73 L252.66,263.83 L253.58,263.94 L254.45,264.03 L255.26,264.12 L256.01,264.20 L256.68,264.28 L257.28,264.35 L257.80,264.41" fill="none" stroke="#1e1e1e" stroke-width="1.1" stroke-linejoin="round" opacity="1"/>
<path d="M59.60,191.40 L60.10,192.29 L60.71,193.39 L61.41,194.67 L62.19,196.09 L63.04,197.65 L63.96,199.31 L64.92,201.05 L65.92,202.84 L66.94,204.67 L67.97,206.50 L69.00,208.30 L70.03,210.07 L71.02,211.76 L71.99,213.37 L72.88,214.79 L73.78,216.18 L74.70,217.54 L75.63,218.89 L76.57,220.22 L77.52,221.55 L78.47,222.89 L79.43,224.23 L80.38,225.60 L81.33,227.00 L82.28,228.44 L83.22,229.92 L84.16,231.45 L85.08,233.04 L85.99,234.70 L86.90,236.48 L87.82,238.39 L88.76,240.41 L89.71,242.51 L90.65,244.68 L91.59,246.88 L92.53,249.10 L93.44,251.30 L94.34,253.47 L95.21,255.57 L96.05,257.59 L96.85,259.50 L97.62,261.27 L98.33,262.88 L98.99,264.31 L100.06,266.49 L100.94,268.16 L101.67,269.45 L102.30,270.47 L102.90,271.36 L103.52,272.23 L104.21,273.22 L105.02,274.45 L105.75,275.60 L106.52,276.80 L107.32,278.05 L108.14,279.31 L108.98,280.59 L109.84,281.86 L110.70,283.11 L111.57,284.33 L112.43,285.49 L113.28,286.59 L114.13,287.66 L115.00,288.77 L115.88,289.87 L116.76,290.95 L117.64,291.98 L118.52,292.94 L119.40,293.80 L120.26,294.55 L121.11,295.15 L121.95,295.58 L122.86,295.82 L123.74,295.82 L124.61,295.63 L125.47,295.30 L126.33,294.89 L127.18,294.44 L128.04,294.00 L128.91,293.64 L129.80,293.38 L130.59,293.23 L131.36,293.09 L132.11,292.97 L132.87,292.85 L133.64,292.75 L134.43,292.66 L135.26,292.59 L136.13,292.52 L137.06,292.48 L138.05,292.44 L138.81,292.44 L139.61,292.44 L140.44,292.47 L141.29,292.51 L142.17,292.55 L143.07,292.60 L143.99,292.66 L144.92,292.71 L145.85,292.76 L146.78,292.81 L147.71,292.84 L148.64,292.87 L149.55,292.87 L150.44,292.86 L151.32,292.83 L152.19,292.80 L153.04,292.75 L153.90,292.69 L154.75,292.63 L155.60,292.56 L156.45,292.48 L157.32,292.40 L158.19,292.31 L159.08,292.22 L159.98,292.12 L160.91,292.02 L161.86,291.92 L162.83,291.82 L163.64,291.72 L164.43,291.62 L165.21,291.51 L166.00,291.38 L166.78,291.26 L167.58,291.12 L168.38,290.99 L169.20,290.86 L170.04,290.72 L170.91,290.59 L171.81,290.47 L172.74,290.35 L173.71,290.24 L174.73,290.14 L175.80,290.06 L176.92,289.99 L178.11,289.93 L178.84,289.91 L179.57,289.89 L180.29,289.87 L181.02,289.86 L181.74,289.85 L182.47,289.85 L183.21,289.85 L183.95,289.85 L184.70,289.86 L185.47,289.87 L186.25,289.88 L187.05,289.90 L187.87,289.91 L188.71,289.93 L189.58,289.95 L190.47,289.98 L191.39,290.00 L192.35,290.02 L193.34,290.05 L194.36,290.07 L195.42,290.10 L196.52,290.12 L197.67,290.14 L198.86,290.17 L200.10,290.19 L201.39,290.21 L202.73,290.23 L204.12,290.25 L204.86,290.26 L205.64,290.26 L206.45,290.27 L207.29,290.28 L208.16,290.29 L209.06,290.31 L209.99,290.32 L210.94,290.33 L211.92,290.34 L212.92,290.35 L213.94,290.36 L214.99,290.37 L216.05,290.39 L217.12,290.40 L218.22,290.41 L219.32,290.43 L220.44,290.44 L221.57,290.45 L222.71,290.47 L223.86,290.48 L225.02,290.49 L226.18,290.51 L227.34,290.52 L228.51,290.53 L229.67,290.55 L230.84,290.56 L232.01,290.57 L233.17,290.59 L234.32,290.60 L235.47,290.61 L236.61,290.63 L237.74,290.64 L238.87,290.65 L239.97,290.67 L241.07,290.68 L242.15,290.69 L243.21,290.70 L244.26,290.72 L245.28,290.73 L246.28,290.74 L247.26,290.75 L248.22,290.76 L249.15,290.77 L250.06,290.78 L250.93,290.79 L251.78,290.80 L252.59,290.81 L253.37,290.82 L254.12,290.83 L254.83,290.84 L255.51,290.85 L256.14,290.86 L256.74,290.86 L257.29,290.87 L257.80,290.87" fill="none" stroke="#78c848" stroke-width="0.9" stroke-linejoin="round" opacity="1"/>
<path d="M59.60,191.40 L60.10,192.38 L60.71,193.57 L61.41,194.96 L62.19,196.51 L63.04,198.21 L63.96,200.02 L64.92,201.91 L65.92,203.87 L66.94,205.86 L67.97,207.87 L69.00,209.85 L70.03,211.80 L71.02,213.68 L71.99,215.46 L72.88,217.06 L73.78,218.64 L74.70,220.21 L75.63,221.77 L76.57,223.33 L77.52,224.89 L78.47,226.45 L79.43,228.03 L80.38,229.62 L81.33,231.23 L82.28,232.86 L83.22,234.52 L84.16,236.22 L85.08,237.95 L85.99,239.73 L86.90,241.58 L87.82,243.54 L88.76,245.57 L89.71,247.67 L90.65,249.82 L91.59,251.98 L92.53,254.16 L93.44,256.31 L94.34,258.44 L95.21,260.51 L96.05,262.52 L96.85,264.43 L97.62,266.23 L98.33,267.90 L98.99,269.43 L100.09,271.95 L101.02,274.11 L101.81,275.99 L102.51,277.63 L103.15,279.11 L103.75,280.47 L104.37,281.80 L105.02,283.13 L105.92,284.86 L106.78,286.41 L107.62,287.81 L108.43,289.07 L109.21,290.23 L109.98,291.29 L110.68,292.31 L111.32,293.27 L111.94,294.12 L112.58,294.81 L113.28,295.28 L114.11,295.48 L114.81,295.40 L115.57,295.12 L116.38,294.68 L117.23,294.14 L118.10,293.54 L118.97,292.92 L119.85,292.33 L120.71,291.82 L121.46,291.39 L122.21,290.93 L122.96,290.47 L123.71,290.00 L124.48,289.54 L125.25,289.11 L126.05,288.71 L126.88,288.35 L127.73,288.05 L128.54,287.82 L129.37,287.61 L130.24,287.42 L131.12,287.26 L132.02,287.12 L132.91,287.02 L133.81,286.96 L134.69,286.93 L135.56,286.94 L136.40,287.00 L137.32,287.14 L138.23,287.34 L139.12,287.60 L140.01,287.90 L140.89,288.24 L141.76,288.61 L142.60,288.98 L143.44,289.36 L144.25,289.72 L145.12,290.15 L145.96,290.63 L146.76,291.13 L147.55,291.65 L148.34,292.15 L149.14,292.62 L149.98,293.04 L150.85,293.38 L151.67,293.64 L152.51,293.86 L153.36,294.06 L154.23,294.22 L155.12,294.35 L156.01,294.46 L156.91,294.54 L157.80,294.60 L158.70,294.64 L159.49,294.65 L160.26,294.63 L161.02,294.58 L161.78,294.51 L162.55,294.42 L163.34,294.32 L164.16,294.21 L165.04,294.11 L165.96,294.00 L166.96,293.91 L167.69,293.84 L168.40,293.76 L169.12,293.68 L169.84,293.59 L170.57,293.50 L171.33,293.40 L172.12,293.31 L172.95,293.22 L173.84,293.14 L174.78,293.06 L175.80,292.99 L176.89,292.94 L178.07,292.89 L179.35,292.86 L180.06,292.85 L180.77,292.85 L181.48,292.84 L182.19,292.85 L182.90,292.85 L183.63,292.86 L184.36,292.87 L185.11,292.89 L185.87,292.90 L186.66,292.92 L187.46,292.94 L188.29,292.96 L189.15,292.99 L190.04,293.01 L190.96,293.04 L191.92,293.06 L192.92,293.09 L193.96,293.11 L195.04,293.14 L196.18,293.16 L197.36,293.18 L198.59,293.21 L199.88,293.23 L201.23,293.25 L202.65,293.27 L204.12,293.28 L204.85,293.29 L205.62,293.29 L206.42,293.30 L207.25,293.31 L208.12,293.31 L209.01,293.32 L209.93,293.33 L210.88,293.33 L211.85,293.34 L212.85,293.35 L213.87,293.35 L214.90,293.36 L215.96,293.37 L217.04,293.38 L218.13,293.38 L219.23,293.39 L220.35,293.40 L221.48,293.40 L222.62,293.41 L223.77,293.42 L224.93,293.42 L226.09,293.43 L227.25,293.43 L228.42,293.44 L229.59,293.45 L230.76,293.45 L231.93,293.46 L233.09,293.47 L234.25,293.47 L235.40,293.48 L236.55,293.48 L237.68,293.49 L238.81,293.50 L239.92,293.50 L241.02,293.51 L242.10,293.51 L243.17,293.52 L244.21,293.52 L245.24,293.53 L246.25,293.53 L247.23,293.54 L248.20,293.54 L249.13,293.55 L250.04,293.55 L250.92,293.56 L251.76,293.56 L252.58,293.57 L253.37,293.57 L254.11,293.57 L254.83,293.58 L255.50,293.58 L256.14,293.58 L256.74,293.59 L257.29,293.59 L257.80,293.59" fill="none" stroke="#5a62d8" stroke-width="0.9" stroke-linejoin="round" opacity="1"/>
<path d="M59.60,191.40 L60.10,191.90 L60.73,192.53 L61.46,193.27 L62.29,194.09 L63.18,194.99 L64.13,195.94 L65.12,196.93 L66.12,197.95 L67.12,198.96 L68.10,199.97 L69.04,200.94 L69.92,201.86 L70.77,202.76 L71.61,203.66 L72.45,204.57 L73.28,205.48 L74.11,206.40 L74.95,207.32 L75.78,208.24 L76.61,209.16 L77.45,210.08 L78.29,211.01 L79.14,211.93 L80.00,212.84 L80.85,213.74 L81.69,214.62 L82.51,215.48 L83.34,216.33 L84.17,217.18 L85.01,218.04 L85.86,218.92 L86.74,219.82 L87.64,220.75 L88.58,221.72 L89.55,222.75 L90.57,223.83 L91.36,224.67 L92.15,225.54 L92.96,226.44 L93.78,227.36 L94.61,228.30 L95.46,229.25 L96.33,230.23 L97.21,231.22 L98.11,232.22 L99.03,233.24 L99.97,234.27 L100.93,235.31 L101.91,236.35 L102.92,237.40 L103.96,238.46 L105.02,239.52 L105.85,240.34 L106.71,241.19 L107.58,242.07 L108.48,242.98 L109.40,243.90 L110.33,244.83 L111.27,245.78 L112.23,246.73 L113.19,247.68 L114.17,248.63 L115.16,249.57 L116.14,250.50 L117.14,251.42 L118.13,252.32 L119.13,253.19 L120.12,254.04 L121.11,254.85 L122.10,255.63 L123.08,256.37 L124.05,257.07 L125.01,257.72 L125.92,258.29 L126.83,258.82 L127.74,259.31 L128.65,259.77 L129.57,260.19 L130.48,260.58 L131.39,260.95 L132.31,261.30 L133.22,261.63 L134.14,261.94 L135.05,262.24 L135.96,262.53 L136.88,262.82 L137.79,263.10 L138.70,263.38 L139.62,263.67 L140.53,263.96 L141.44,264.27 L142.35,264.59 L143.26,264.93 L144.17,265.28 L145.07,265.67 L146.03,266.09 L146.99,266.52 L147.96,266.96 L148.93,267.41 L149.91,267.86 L150.89,268.33 L151.87,268.79 L152.85,269.26 L153.82,269.74 L154.80,270.21 L155.77,270.68 L156.73,271.15 L157.69,271.62 L158.63,272.08 L159.57,272.54 L160.49,272.99 L161.41,273.43 L162.30,273.86 L163.18,274.28 L164.05,274.69 L164.89,275.08 L165.90,275.55 L166.86,276.01 L167.77,276.45 L168.65,276.89 L169.51,277.31 L170.34,277.73 L171.16,278.13 L171.97,278.53 L172.79,278.92 L173.61,279.31 L174.44,279.69 L175.30,280.06 L176.19,280.43 L177.11,280.79 L178.08,281.16 L179.10,281.52 L180.17,281.88 L180.97,282.13 L181.78,282.38 L182.62,282.63 L183.48,282.88 L184.36,283.13 L185.25,283.37 L186.16,283.61 L187.08,283.85 L188.02,284.08 L188.96,284.32 L189.92,284.55 L190.88,284.78 L191.85,285.00 L192.82,285.22 L193.80,285.45 L194.78,285.66 L195.75,285.88 L196.73,286.09 L197.70,286.30 L198.67,286.51 L199.63,286.72 L200.59,286.92 L201.53,287.12 L202.47,287.32 L203.39,287.51 L204.29,287.71 L205.18,287.90 L206.06,288.08 L206.93,288.27 L207.79,288.45 L208.65,288.64 L209.50,288.81 L210.36,288.99 L211.22,289.16 L212.08,289.33 L212.95,289.50 L213.83,289.67 L214.71,289.83 L215.62,289.99 L216.54,290.15 L217.48,290.30 L218.44,290.45 L219.42,290.60 L220.43,290.74 L221.47,290.89 L222.53,291.03 L223.63,291.16 L224.77,291.29 L225.58,291.38 L226.43,291.47 L227.32,291.56 L228.25,291.64 L229.21,291.73 L230.20,291.81 L231.21,291.90 L232.25,291.98 L233.31,292.06 L234.39,292.14 L235.47,292.22 L236.57,292.29 L237.68,292.37 L238.79,292.44 L239.91,292.52 L241.02,292.59 L242.13,292.66 L243.23,292.73 L244.32,292.79 L245.39,292.86 L246.45,292.92 L247.49,292.98 L248.51,293.04 L249.50,293.10 L250.46,293.15 L251.39,293.21 L252.28,293.26 L253.14,293.31 L253.95,293.36 L254.72,293.40 L255.44,293.44 L256.12,293.49 L256.73,293.52 L257.30,293.56 L257.80,293.59" fill="none" stroke="#7a6ae0" stroke-width="1.15" stroke-linejoin="round" opacity="1"/>
<path d="M59.60,191.40 L60.10,191.98 L60.73,192.70 L61.46,193.54 L62.29,194.49 L63.18,195.52 L64.13,196.61 L65.12,197.75 L66.12,198.91 L67.12,200.08 L68.10,201.24 L69.04,202.36 L69.92,203.43 L70.77,204.47 L71.61,205.53 L72.45,206.60 L73.28,207.68 L74.11,208.76 L74.95,209.85 L75.78,210.94 L76.61,212.02 L77.45,213.10 L78.29,214.18 L79.14,215.24 L80.00,216.29 L80.85,217.33 L81.69,218.34 L82.51,219.33 L83.34,220.31 L84.17,221.29 L85.01,222.27 L85.86,223.26 L86.74,224.26 L87.64,225.28 L88.58,226.33 L89.55,227.41 L90.57,228.53 L91.36,229.40 L92.15,230.29 L92.96,231.20 L93.78,232.12 L94.61,233.06 L95.46,234.01 L96.33,234.97 L97.21,235.94 L98.11,236.91 L99.03,237.89 L99.97,238.87 L100.93,239.85 L101.91,240.82 L102.92,241.79 L103.96,242.75 L105.02,243.70 L105.85,244.43 L106.71,245.18 L107.58,245.94 L108.48,246.71 L109.40,247.49 L110.33,248.27 L111.27,249.06 L112.23,249.85 L113.19,250.63 L114.17,251.41 L115.16,252.18 L116.14,252.93 L117.14,253.68 L118.13,254.40 L119.13,255.11 L120.12,255.79 L121.11,256.45 L122.10,257.08 L123.08,257.67 L124.05,258.24 L125.01,258.76 L125.92,259.23 L126.83,259.66 L127.74,260.06 L128.65,260.43 L129.57,260.77 L130.48,261.09 L131.39,261.39 L132.31,261.67 L133.22,261.93 L134.14,262.18 L135.05,262.42 L135.96,262.64 L136.88,262.86 L137.79,263.08 L138.70,263.29 L139.62,263.51 L140.53,263.72 L141.44,263.94 L142.35,264.17 L143.26,264.41 L144.17,264.67 L145.07,264.93 L146.03,265.22 L146.99,265.52 L147.96,265.82 L148.93,266.11 L149.91,266.42 L150.89,266.72 L151.87,267.02 L152.85,267.32 L153.82,267.62 L154.80,267.92 L155.77,268.21 L156.73,268.51 L157.69,268.79 L158.63,269.08 L159.57,269.36 L160.49,269.63 L161.41,269.90 L162.30,270.16 L163.18,270.41 L164.05,270.66 L164.89,270.90 L165.91,271.18 L166.88,271.45 L167.83,271.71 L168.75,271.96 L169.64,272.20 L170.52,272.44 L171.38,272.67 L172.24,272.89 L173.08,273.10 L173.93,273.31 L174.78,273.51 L175.64,273.71 L176.50,273.91 L177.39,274.10 L178.29,274.29 L179.22,274.48 L180.17,274.66 L181.04,274.82 L181.89,274.98 L182.74,275.13 L183.59,275.28 L184.44,275.42 L185.29,275.56 L186.14,275.70 L187.01,275.83 L187.88,275.96 L188.77,276.08 L189.68,276.21 L190.61,276.33 L191.56,276.45 L192.54,276.57 L193.55,276.69 L194.59,276.81 L195.66,276.93 L196.77,277.05 L197.93,277.17 L198.73,277.25 L199.55,277.34 L200.38,277.42 L201.23,277.50 L202.09,277.58 L202.97,277.67 L203.85,277.75 L204.75,277.83 L205.66,277.91 L206.59,277.99 L207.52,278.07 L208.47,278.15 L209.43,278.23 L210.39,278.31 L211.37,278.39 L212.35,278.46 L213.35,278.54 L214.35,278.61 L215.36,278.68 L216.38,278.75 L217.41,278.82 L218.44,278.89 L219.48,278.96 L220.53,279.02 L221.58,279.09 L222.64,279.15 L223.70,279.21 L224.77,279.26 L225.64,279.31 L226.55,279.35 L227.49,279.39 L228.46,279.44 L229.45,279.48 L230.47,279.52 L231.51,279.56 L232.56,279.60 L233.63,279.63 L234.72,279.67 L235.81,279.71 L236.91,279.74 L238.01,279.77 L239.12,279.81 L240.22,279.84 L241.32,279.87 L242.42,279.90 L243.50,279.93 L244.57,279.96 L245.63,279.99 L246.67,280.02 L247.69,280.04 L248.68,280.07 L249.65,280.09 L250.59,280.12 L251.50,280.14 L252.37,280.16 L253.21,280.18 L254.01,280.20 L254.76,280.22 L255.47,280.24 L256.13,280.26 L256.74,280.28 L257.30,280.29 L257.80,280.31" fill="none" stroke="#78c848" stroke-width="1.15" stroke-linejoin="round" opacity="1"/>
<path d="M59.60,191.40 L60.10,191.96 L60.73,192.65 L61.46,193.46 L62.29,194.38 L63.18,195.37 L64.13,196.42 L65.12,197.51 L66.12,198.63 L67.12,199.75 L68.10,200.84 L69.04,201.90 L69.92,202.91 L70.77,203.87 L71.61,204.85 L72.45,205.82 L73.28,206.79 L74.11,207.77 L74.95,208.74 L75.78,209.72 L76.61,210.70 L77.45,211.68 L78.29,212.66 L79.14,213.64 L80.00,214.62 L80.85,215.59 L81.69,216.55 L82.51,217.49 L83.34,218.43 L84.17,219.37 L85.01,220.32 L85.86,221.27 L86.74,222.25 L87.64,223.25 L88.58,224.28 L89.55,225.34 L90.57,226.44 L91.36,227.30 L92.15,228.18 L92.96,229.07 L93.78,229.99 L94.61,230.93 L95.46,231.87 L96.33,232.83 L97.21,233.80 L98.11,234.78 L99.03,235.76 L99.97,236.74 L100.93,237.72 L101.91,238.70 L102.92,239.68 L103.96,240.65 L105.02,241.61 L105.85,242.35 L106.71,243.10 L107.58,243.88 L108.48,244.66 L109.40,245.46 L110.33,246.26 L111.27,247.07 L112.23,247.87 L113.19,248.68 L114.17,249.48 L115.16,250.26 L116.14,251.04 L117.14,251.80 L118.13,252.55 L119.13,253.27 L120.12,253.97 L121.11,254.64 L122.10,255.28 L123.08,255.89 L124.05,256.46 L125.01,256.98 L125.92,257.45 L126.83,257.88 L127.74,258.28 L128.65,258.64 L129.57,258.98 L130.48,259.29 L131.39,259.57 L132.31,259.84 L133.22,260.09 L134.14,260.32 L135.05,260.55 L135.96,260.76 L136.88,260.97 L137.79,261.17 L138.70,261.37 L139.62,261.57 L140.53,261.77 L141.44,261.98 L142.35,262.20 L143.26,262.44 L144.17,262.68 L145.07,262.95 L146.03,263.23 L146.99,263.53 L147.96,263.82 L148.93,264.12 L149.91,264.42 L150.89,264.71 L151.87,265.02 L152.85,265.32 L153.82,265.62 L154.80,265.92 L155.77,266.21 L156.73,266.51 L157.69,266.80 L158.63,267.10 L159.57,267.38 L160.49,267.67 L161.41,267.95 L162.30,268.22 L163.18,268.49 L164.05,268.76 L164.89,269.01 L165.91,269.32 L166.88,269.63 L167.83,269.93 L168.75,270.22 L169.64,270.51 L170.52,270.80 L171.38,271.08 L172.24,271.35 L173.08,271.62 L173.93,271.88 L174.78,272.14 L175.64,272.40 L176.50,272.65 L177.39,272.90 L178.29,273.14 L179.22,273.38 L180.17,273.62 L181.04,273.82 L181.89,274.02 L182.74,274.22 L183.59,274.41 L184.44,274.60 L185.29,274.78 L186.14,274.96 L187.01,275.14 L187.88,275.31 L188.77,275.49 L189.68,275.65 L190.61,275.82 L191.56,275.99 L192.54,276.15 L193.55,276.31 L194.59,276.48 L195.66,276.64 L196.77,276.80 L197.93,276.96 L198.73,277.07 L199.55,277.18 L200.38,277.29 L201.23,277.40 L202.09,277.51 L202.97,277.62 L203.85,277.73 L204.75,277.84 L205.66,277.95 L206.59,278.05 L207.52,278.16 L208.47,278.26 L209.43,278.37 L210.39,278.47 L211.37,278.58 L212.35,278.68 L213.35,278.78 L214.35,278.88 L215.36,278.97 L216.38,279.07 L217.41,279.17 L218.44,279.26 L219.48,279.35 L220.53,279.44 L221.58,279.53 L222.64,279.62 L223.70,279.70 L224.77,279.79 L225.64,279.85 L226.55,279.92 L227.49,279.98 L228.46,280.05 L229.45,280.11 L230.47,280.18 L231.51,280.24 L232.56,280.30 L233.63,280.36 L234.72,280.42 L235.81,280.48 L236.91,280.54 L238.01,280.60 L239.12,280.66 L240.22,280.72 L241.32,280.77 L242.42,280.83 L243.50,280.88 L244.57,280.93 L245.63,280.98 L246.67,281.03 L247.69,281.08 L248.68,281.13 L249.65,281.17 L250.59,281.22 L251.50,281.26 L252.37,281.30 L253.21,281.34 L254.01,281.38 L254.76,281.41 L255.47,281.45 L256.13,281.48 L256.74,281.51 L257.30,281.54 L257.80,281.57" fill="none" stroke="#d040a8" stroke-width="1.15" stroke-linejoin="round" opacity="1"/>
<path d="M59.60,191.40 L60.10,191.93 L60.73,192.59 L61.46,193.36 L62.29,194.23 L63.18,195.17 L64.13,196.17 L65.12,197.21 L66.12,198.28 L67.12,199.34 L68.10,200.40 L69.04,201.41 L69.92,202.38 L70.77,203.33 L71.61,204.28 L72.45,205.23 L73.28,206.20 L74.11,207.17 L74.95,208.14 L75.78,209.11 L76.61,210.07 L77.45,211.04 L78.29,212.00 L79.14,212.95 L80.00,213.89 L80.85,214.81 L81.69,215.70 L82.51,216.57 L83.34,217.43 L84.17,218.29 L85.01,219.15 L85.86,220.03 L86.74,220.92 L87.64,221.84 L88.58,222.81 L89.55,223.81 L90.57,224.87 L91.36,225.71 L92.15,226.59 L92.96,227.50 L93.78,228.44 L94.61,229.41 L95.46,230.39 L96.33,231.39 L97.21,232.39 L98.11,233.40 L99.03,234.40 L99.97,235.39 L100.93,236.37 L101.91,237.33 L102.92,238.26 L103.96,239.17 L105.02,240.04 L105.85,240.68 L106.71,241.33 L107.58,241.97 L108.48,242.60 L109.40,243.23 L110.33,243.85 L111.27,244.46 L112.23,245.07 L113.19,245.67 L114.17,246.26 L115.16,246.85 L116.14,247.42 L117.14,247.99 L118.13,248.54 L119.13,249.08 L120.12,249.61 L121.11,250.13 L122.10,250.64 L123.08,251.13 L124.05,251.60 L125.01,252.07 L125.92,252.49 L126.83,252.90 L127.74,253.29 L128.65,253.66 L129.57,254.02 L130.48,254.37 L131.39,254.71 L132.31,255.03 L133.22,255.34 L134.14,255.65 L135.05,255.95 L135.96,256.25 L136.88,256.54 L137.79,256.82 L138.70,257.11 L139.62,257.40 L140.53,257.68 L141.44,257.97 L142.35,258.27 L143.26,258.56 L144.17,258.87 L145.07,259.18 L146.03,259.51 L146.99,259.85 L147.96,260.19 L148.93,260.54 L149.91,260.88 L150.89,261.23 L151.87,261.58 L152.85,261.93 L153.82,262.27 L154.80,262.61 L155.77,262.95 L156.73,263.29 L157.69,263.62 L158.63,263.94 L159.57,264.26 L160.49,264.57 L161.41,264.87 L162.30,265.16 L163.18,265.45 L164.05,265.72 L164.89,265.98 L165.91,266.28 L166.88,266.57 L167.83,266.83 L168.75,267.08 L169.64,267.31 L170.52,267.54 L171.38,267.75 L172.24,267.96 L173.08,268.16 L173.93,268.36 L174.78,268.56 L175.64,268.76 L176.50,268.96 L177.39,269.17 L178.29,269.38 L179.22,269.61 L180.17,269.85 L181.04,270.07 L181.89,270.30 L182.74,270.53 L183.59,270.76 L184.44,270.99 L185.29,271.23 L186.14,271.47 L187.01,271.70 L187.88,271.95 L188.77,272.19 L189.68,272.43 L190.61,272.67 L191.56,272.91 L192.54,273.16 L193.55,273.40 L194.59,273.64 L195.66,273.88 L196.77,274.11 L197.93,274.35 L198.73,274.51 L199.55,274.67 L200.38,274.83 L201.23,275.00 L202.09,275.17 L202.97,275.33 L203.85,275.50 L204.75,275.67 L205.66,275.84 L206.59,276.01 L207.52,276.18 L208.47,276.35 L209.43,276.52 L210.39,276.68 L211.37,276.85 L212.35,277.01 L213.35,277.17 L214.35,277.33 L215.36,277.49 L216.38,277.64 L217.41,277.79 L218.44,277.94 L219.48,278.08 L220.53,278.22 L221.58,278.36 L222.64,278.49 L223.70,278.62 L224.77,278.74 L225.64,278.84 L226.55,278.93 L227.49,279.02 L228.46,279.11 L229.45,279.20 L230.47,279.29 L231.51,279.37 L232.56,279.46 L233.63,279.54 L234.72,279.62 L235.81,279.70 L236.91,279.77 L238.01,279.85 L239.12,279.92 L240.22,279.99 L241.32,280.06 L242.42,280.13 L243.50,280.20 L244.57,280.26 L245.63,280.33 L246.67,280.39 L247.69,280.45 L248.68,280.50 L249.65,280.56 L250.59,280.61 L251.50,280.67 L252.37,280.71 L253.21,280.76 L254.01,280.81 L254.76,280.85 L255.47,280.89 L256.13,280.93 L256.74,280.97 L257.30,281.01 L257.80,281.04" fill="none" stroke="#d050b8" stroke-width="1.15" stroke-linejoin="round" opacity="1"/>
<path d="M59.60,191.40 L60.10,191.88 L60.73,192.48 L61.46,193.19 L62.29,193.98 L63.18,194.84 L64.13,195.75 L65.12,196.69 L66.12,197.66 L67.12,198.62 L68.10,199.57 L69.04,200.48 L69.92,201.34 L70.77,202.16 L71.61,202.99 L72.45,203.81 L73.28,204.63 L74.11,205.45 L74.95,206.27 L75.78,207.10 L76.61,207.92 L77.45,208.75 L78.29,209.59 L79.14,210.43 L80.00,211.27 L80.85,212.11 L81.69,212.93 L82.51,213.73 L83.34,214.53 L84.17,215.33 L85.01,216.14 L85.86,216.98 L86.74,217.84 L87.64,218.74 L88.58,219.68 L89.55,220.68 L90.57,221.73 L91.36,222.58 L92.15,223.46 L92.96,224.38 L93.78,225.34 L94.61,226.32 L95.46,227.33 L96.33,228.35 L97.21,229.39 L98.11,230.43 L99.03,231.47 L99.97,232.51 L100.93,233.53 L101.91,234.54 L102.92,235.53 L103.96,236.49 L105.02,237.42 L105.85,238.12 L106.71,238.83 L107.58,239.53 L108.48,240.24 L109.40,240.95 L110.33,241.66 L111.27,242.36 L112.23,243.06 L113.19,243.75 L114.17,244.43 L115.16,245.11 L116.14,245.77 L117.14,246.42 L118.13,247.05 L119.13,247.67 L120.12,248.27 L121.11,248.84 L122.10,249.40 L123.08,249.93 L124.05,250.44 L125.01,250.92 L125.92,251.35 L126.83,251.75 L127.74,252.13 L128.65,252.48 L129.57,252.81 L130.48,253.12 L131.39,253.41 L132.31,253.69 L133.22,253.95 L134.14,254.20 L135.05,254.44 L135.96,254.67 L136.88,254.90 L137.79,255.12 L138.70,255.34 L139.62,255.56 L140.53,255.78 L141.44,256.01 L142.35,256.24 L143.26,256.48 L144.17,256.72 L145.07,256.98 L146.03,257.26 L146.99,257.55 L147.96,257.83 L148.93,258.11 L149.91,258.40 L150.89,258.68 L151.87,258.97 L152.85,259.25 L153.82,259.53 L154.80,259.81 L155.77,260.09 L156.73,260.37 L157.69,260.64 L158.63,260.90 L159.57,261.17 L160.49,261.43 L161.41,261.68 L162.30,261.93 L163.18,262.17 L164.05,262.40 L164.89,262.63 L165.91,262.90 L166.88,263.16 L167.83,263.41 L168.75,263.65 L169.64,263.89 L170.52,264.11 L171.38,264.33 L172.24,264.55 L173.08,264.76 L173.93,264.96 L174.78,265.17 L175.64,265.37 L176.50,265.57 L177.39,265.78 L178.29,265.98 L179.22,266.19 L180.17,266.40 L181.04,266.59 L181.92,266.78 L182.81,266.96 L183.70,267.15 L184.60,267.34 L185.51,267.52 L186.42,267.71 L187.35,267.89 L188.27,268.07 L189.21,268.25 L190.15,268.43 L191.10,268.61 L192.05,268.79 L193.01,268.97 L193.98,269.15 L194.96,269.33 L195.94,269.50 L196.93,269.68 L197.93,269.85 L198.80,270.00 L199.67,270.15 L200.56,270.30 L201.46,270.45 L202.37,270.60 L203.28,270.75 L204.20,270.90 L205.12,271.05 L206.05,271.20 L206.98,271.34 L207.91,271.49 L208.85,271.64 L209.79,271.78 L210.73,271.92 L211.67,272.06 L212.60,272.20 L213.54,272.34 L214.47,272.47 L215.40,272.61 L216.33,272.74 L217.25,272.86 L218.16,272.99 L219.11,273.12 L220.06,273.24 L221.01,273.37 L221.96,273.49 L222.91,273.61 L223.85,273.73 L224.80,273.85 L225.74,273.96 L226.68,274.08 L227.63,274.19 L228.57,274.30 L229.51,274.41 L230.45,274.51 L231.39,274.62 L232.33,274.72 L233.27,274.82 L234.21,274.92 L235.15,275.01 L236.09,275.11 L237.04,275.20 L237.98,275.29 L238.95,275.38 L239.95,275.47 L240.98,275.56 L242.05,275.64 L243.13,275.73 L244.22,275.81 L245.32,275.89 L246.42,275.97 L247.51,276.05 L248.60,276.13 L249.66,276.20 L250.69,276.27 L251.70,276.34 L252.66,276.40 L253.58,276.47 L254.45,276.52 L255.26,276.58 L256.01,276.63 L256.68,276.67 L257.28,276.72 L257.80,276.75" fill="none" stroke="#70c840" stroke-width="1.2" stroke-linejoin="round" opacity="1"/>
<path d="M59.60,191.40 L60.12,192.39 L60.78,193.62 L61.54,195.06 L62.40,196.68 L63.34,198.45 L64.34,200.33 L65.37,202.28 L66.42,204.28 L67.47,206.30 L68.51,208.29 L69.51,210.23 L70.36,211.90 L71.25,213.66 L72.17,215.51 L73.11,217.41 L74.07,219.35 L75.02,221.29 L75.98,223.22 L76.92,225.11 L77.83,226.95 L78.71,228.70 L79.55,230.35 L80.34,231.87 L81.07,233.24 L82.09,235.10 L82.94,236.58 L83.67,237.79 L84.34,238.84 L85.01,239.84 L85.74,240.91 L86.58,242.16 L87.60,243.70 L88.29,244.82 L89.00,246.03 L89.74,247.32 L90.49,248.68 L91.28,250.08 L92.09,251.51 L92.94,252.95 L93.83,254.39 L94.77,255.80 L95.74,257.17 L96.77,258.48 L97.85,259.71 L98.99,260.85 L99.76,261.55 L100.53,262.22 L101.30,262.86 L102.10,263.48 L102.90,264.08 L103.72,264.66 L104.56,265.22 L105.42,265.77 L106.30,266.31 L107.20,266.84 L108.13,267.36 L109.08,267.87 L110.07,268.38 L111.09,268.89 L112.14,269.40 L113.23,269.92 L114.36,270.44 L115.52,270.96 L116.73,271.50 L117.99,272.05 L118.75,272.38 L119.53,272.71 L120.34,273.05 L121.17,273.39 L122.02,273.74 L122.88,274.09 L123.77,274.44 L124.67,274.80 L125.58,275.15 L126.51,275.51 L127.45,275.87 L128.41,276.23 L129.37,276.59 L130.35,276.94 L131.33,277.30 L132.32,277.65 L133.31,278.00 L134.31,278.35 L135.31,278.69 L136.32,279.03 L137.33,279.37 L138.33,279.69 L139.34,280.02 L140.35,280.33 L141.35,280.64 L142.34,280.95 L143.34,281.24 L144.32,281.53 L145.30,281.80 L146.27,282.07 L147.22,282.33 L148.17,282.57 L149.11,282.81 L150.03,283.03 L151.00,283.25 L151.99,283.47 L152.98,283.67 L153.97,283.87 L154.97,284.05 L155.98,284.23 L156.98,284.40 L157.99,284.56 L159.00,284.71 L160.00,284.86 L161.01,284.99 L162.02,285.12 L163.02,285.25 L164.01,285.36 L165.01,285.47 L165.99,285.58 L166.97,285.68 L167.94,285.78 L168.91,285.87 L169.86,285.95 L170.80,286.04 L171.73,286.12 L172.65,286.19 L173.55,286.27 L174.44,286.34 L175.31,286.41 L176.17,286.47 L177.01,286.54 L177.83,286.60 L178.63,286.67 L179.41,286.73 L180.17,286.80 L181.39,286.89 L182.52,286.97 L183.57,287.04 L184.56,287.08 L185.50,287.12 L186.38,287.14 L187.23,287.16 L188.06,287.16 L188.86,287.16 L189.65,287.15 L190.45,287.14 L191.25,287.13 L192.07,287.11 L192.92,287.10 L193.81,287.09 L194.75,287.08 L195.74,287.08 L196.79,287.09 L197.93,287.11 L198.73,287.12 L199.55,287.14 L200.38,287.16 L201.23,287.17 L202.09,287.19 L202.97,287.21 L203.85,287.23 L204.75,287.25 L205.66,287.27 L206.59,287.28 L207.52,287.30 L208.47,287.32 L209.43,287.34 L210.39,287.36 L211.37,287.38 L212.35,287.40 L213.35,287.42 L214.35,287.44 L215.36,287.46 L216.38,287.48 L217.41,287.50 L218.44,287.52 L219.48,287.54 L220.53,287.56 L221.58,287.58 L222.64,287.60 L223.70,287.61 L224.77,287.63 L225.64,287.65 L226.55,287.66 L227.49,287.67 L228.46,287.69 L229.45,287.70 L230.47,287.71 L231.51,287.73 L232.56,287.74 L233.63,287.76 L234.72,287.77 L235.81,287.79 L236.91,287.80 L238.01,287.81 L239.12,287.83 L240.22,287.84 L241.32,287.85 L242.42,287.87 L243.50,287.88 L244.57,287.89 L245.63,287.91 L246.67,287.92 L247.69,287.93 L248.68,287.94 L249.65,287.95 L250.59,287.96 L251.50,287.98 L252.37,287.99 L253.21,288.00 L254.01,288.00 L254.76,288.01 L255.47,288.02 L256.13,288.03 L256.74,288.04 L257.30,288.04 L257.80,288.05" fill="none" stroke="#c8c020" stroke-width="1.5" stroke-linejoin="round" opacity="1"/>
<path d="M59.60,191.40 L60.13,192.52 L60.80,193.93 L61.59,195.60 L62.47,197.47 L63.43,199.49 L64.44,201.63 L65.48,203.83 L66.53,206.05 L67.57,208.23 L68.57,210.34 L69.51,212.32 L70.43,214.25 L71.37,216.23 L72.32,218.23 L73.29,220.25 L74.24,222.26 L75.19,224.25 L76.12,226.19 L77.03,228.09 L77.90,229.90 L78.73,231.63 L79.50,233.24 L80.44,235.23 L81.22,236.97 L81.90,238.54 L82.56,240.02 L83.23,241.48 L83.99,243.00 L84.89,244.66 L85.99,246.52 L86.65,247.63 L87.35,248.81 L88.07,250.04 L88.83,251.33 L89.62,252.65 L90.43,253.99 L91.27,255.35 L92.15,256.71 L93.05,258.05 L93.97,259.38 L94.92,260.67 L95.90,261.91 L96.91,263.10 L97.94,264.21 L98.99,265.25 L99.79,265.97 L100.59,266.67 L101.39,267.33 L102.20,267.97 L103.01,268.58 L103.84,269.16 L104.68,269.73 L105.53,270.28 L106.41,270.81 L107.30,271.33 L108.22,271.83 L109.16,272.33 L110.14,272.82 L111.14,273.30 L112.18,273.78 L113.26,274.26 L114.37,274.75 L115.53,275.23 L116.74,275.73 L117.99,276.23 L118.75,276.53 L119.53,276.83 L120.34,277.14 L121.17,277.44 L122.02,277.75 L122.88,278.05 L123.77,278.36 L124.67,278.67 L125.58,278.98 L126.51,279.28 L127.45,279.59 L128.41,279.89 L129.37,280.20 L130.35,280.50 L131.33,280.79 L132.32,281.09 L133.31,281.38 L134.31,281.67 L135.31,281.96 L136.32,282.24 L137.33,282.51 L138.33,282.79 L139.34,283.05 L140.35,283.31 L141.35,283.57 L142.34,283.82 L143.34,284.06 L144.32,284.29 L145.30,284.52 L146.27,284.74 L147.22,284.95 L148.17,285.16 L149.11,285.35 L150.03,285.54 L151.00,285.73 L151.99,285.91 L152.98,286.07 L153.97,286.23 L154.97,286.38 L155.98,286.52 L156.98,286.65 L157.99,286.78 L159.00,286.90 L160.00,287.01 L161.01,287.11 L162.02,287.21 L163.02,287.30 L164.01,287.39 L165.01,287.47 L165.99,287.55 L166.97,287.63 L167.94,287.70 L168.91,287.77 L169.86,287.83 L170.80,287.90 L171.73,287.96 L172.65,288.02 L173.55,288.08 L174.44,288.14 L175.31,288.20 L176.17,288.26 L177.01,288.32 L177.83,288.38 L178.63,288.44 L179.41,288.51 L180.17,288.57 L181.39,288.68 L182.52,288.78 L183.57,288.87 L184.56,288.95 L185.50,289.03 L186.38,289.09 L187.23,289.16 L188.06,289.22 L188.86,289.27 L189.65,289.33 L190.45,289.38 L191.25,289.43 L192.07,289.49 L192.92,289.55 L193.81,289.61 L194.75,289.68 L195.74,289.76 L196.79,289.84 L197.93,289.93 L198.73,290.00 L199.55,290.07 L200.38,290.14 L201.23,290.22 L202.09,290.30 L202.97,290.38 L203.85,290.46 L204.75,290.55 L205.66,290.63 L206.59,290.72 L207.52,290.81 L208.47,290.90 L209.43,290.99 L210.39,291.08 L211.37,291.17 L212.35,291.26 L213.35,291.35 L214.35,291.44 L215.36,291.52 L216.38,291.61 L217.41,291.70 L218.44,291.78 L219.48,291.86 L220.53,291.94 L221.58,292.02 L222.64,292.09 L223.70,292.17 L224.77,292.23 L225.64,292.29 L226.55,292.34 L227.49,292.39 L228.46,292.45 L229.45,292.50 L230.47,292.55 L231.51,292.60 L232.56,292.66 L233.63,292.71 L234.72,292.76 L235.81,292.81 L236.91,292.85 L238.01,292.90 L239.12,292.95 L240.22,293.00 L241.32,293.04 L242.42,293.09 L243.50,293.13 L244.57,293.18 L245.63,293.22 L246.67,293.26 L247.69,293.30 L248.68,293.34 L249.65,293.38 L250.59,293.41 L251.50,293.45 L252.37,293.48 L253.21,293.51 L254.01,293.54 L254.76,293.57 L255.47,293.60 L256.13,293.63 L256.74,293.65 L257.30,293.68 L257.80,293.70" fill="none" stroke="#2844c0" stroke-width="1.5" stroke-linejoin="round" opacity="1"/>
<path d="M312.60,191.00 L313.12,191.22 L313.72,191.47 L314.39,191.76 L315.14,192.07 L315.95,192.41 L316.82,192.78 L317.74,193.16 L318.71,193.57 L319.71,193.99 L320.75,194.43 L321.81,194.88 L322.90,195.33 L323.99,195.80 L325.09,196.27 L326.19,196.74 L327.29,197.21 L328.37,197.68 L329.43,198.15 L330.47,198.60 L331.47,199.05 L332.44,199.48 L333.38,199.91 L334.33,200.35 L335.27,200.78 L336.22,201.22 L337.16,201.66 L338.11,202.11 L339.05,202.56 L340.00,203.01 L340.94,203.46 L341.89,203.91 L342.83,204.37 L343.78,204.82 L344.72,205.28 L345.67,205.74 L346.61,206.20 L347.56,206.66 L348.50,207.12 L349.45,207.58 L350.39,208.04 L351.34,208.50 L352.28,208.95 L353.22,209.41 L354.17,209.87 L355.11,210.34 L356.06,210.80 L357.00,211.26 L357.95,211.73 L358.89,212.20 L359.84,212.66 L360.78,213.13 L361.73,213.60 L362.67,214.07 L363.62,214.53 L364.56,215.00 L365.51,215.47 L366.45,215.94 L367.40,216.40 L368.34,216.87 L369.29,217.33 L370.23,217.80 L371.18,218.26 L372.12,218.72 L373.06,219.18 L373.99,219.63 L374.92,220.08 L375.84,220.53 L376.76,220.98 L377.68,221.42 L378.60,221.87 L379.51,222.31 L380.43,222.75 L381.35,223.20 L382.27,223.64 L383.20,224.09 L384.13,224.54 L385.07,224.99 L386.02,225.44 L386.98,225.90 L387.95,226.37 L388.93,226.83 L389.93,227.31 L390.93,227.79 L391.96,228.27 L392.84,228.69 L393.74,229.12 L394.66,229.55 L395.59,230.00 L396.54,230.45 L397.50,230.91 L398.47,231.37 L399.45,231.83 L400.44,232.30 L401.43,232.77 L402.43,233.24 L403.42,233.71 L404.42,234.18 L405.41,234.64 L406.39,235.11 L407.37,235.56 L408.34,236.02 L409.30,236.46 L410.24,236.90 L411.17,237.33 L412.08,237.75 L412.98,238.15 L413.85,238.55 L414.70,238.93 L415.52,239.30 L416.61,239.79 L417.64,240.25 L418.61,240.68 L419.53,241.09 L420.42,241.49 L421.28,241.87 L422.11,242.23 L422.94,242.59 L423.76,242.94 L424.59,243.29 L425.43,243.64 L426.30,243.99 L427.19,244.35 L428.13,244.71 L429.12,245.09 L430.17,245.49 L431.28,245.90 L432.47,246.33 L433.25,246.62 L434.06,246.91 L434.90,247.21 L435.77,247.52 L436.67,247.83 L437.59,248.15 L438.53,248.48 L439.50,248.81 L440.47,249.14 L441.46,249.48 L442.47,249.82 L443.48,250.16 L444.49,250.50 L445.52,250.84 L446.54,251.18 L447.57,251.51 L448.59,251.85 L449.60,252.18 L450.61,252.51 L451.61,252.83 L452.59,253.15 L453.57,253.45 L454.52,253.76 L455.45,254.05 L456.37,254.33 L457.25,254.61 L458.11,254.87 L458.95,255.13 L459.75,255.37 L460.86,255.69 L461.94,256.01 L462.98,256.30 L463.99,256.58 L464.97,256.84 L465.92,257.09 L466.85,257.33 L467.76,257.56 L468.64,257.78 L469.51,257.99 L470.37,258.19 L471.21,258.39 L472.05,258.58 L472.89,258.77 L473.72,258.95 L474.55,259.14 L475.38,259.32 L476.22,259.50 L477.07,259.69 L477.93,259.88 L478.89,260.09 L479.84,260.30 L480.78,260.50 L481.72,260.70 L482.65,260.90 L483.57,261.09 L484.48,261.28 L485.39,261.46 L486.30,261.64 L487.21,261.81 L488.11,261.98 L489.02,262.15 L489.92,262.31 L490.82,262.46 L491.73,262.61 L492.64,262.76 L493.55,262.90 L494.47,263.03 L495.41,263.16 L496.39,263.28 L497.41,263.40 L498.46,263.52 L499.52,263.63 L500.59,263.73 L501.66,263.83 L502.72,263.92 L503.77,264.01 L504.79,264.10 L505.77,264.18 L506.71,264.25 L507.61,264.33 L508.44,264.39 L509.20,264.45 L509.89,264.51 L510.49,264.56 L511.00,264.61" fill="none" stroke="#3a3a3a" stroke-width="0.8" stroke-linejoin="round" opacity="0.85"/>
<path d="M312.60,191.00 L313.12,191.25 L313.72,191.55 L314.39,191.88 L315.14,192.25 L315.95,192.65 L316.82,193.07 L317.74,193.52 L318.71,194.00 L319.71,194.49 L320.75,195.00 L321.81,195.52 L322.90,196.05 L323.99,196.59 L325.09,197.14 L326.19,197.68 L327.29,198.22 L328.37,198.76 L329.43,199.29 L330.47,199.81 L331.47,200.31 L332.44,200.79 L333.38,201.27 L334.33,201.75 L335.27,202.24 L336.22,202.72 L337.16,203.21 L338.11,203.69 L339.05,204.18 L340.00,204.67 L340.94,205.16 L341.89,205.65 L342.83,206.15 L343.78,206.64 L344.72,207.13 L345.67,207.62 L346.61,208.11 L347.56,208.60 L348.50,209.08 L349.45,209.57 L350.39,210.05 L351.34,210.53 L352.28,211.01 L353.22,211.48 L354.17,211.96 L355.11,212.43 L356.06,212.91 L357.00,213.38 L357.95,213.85 L358.89,214.32 L359.84,214.79 L360.78,215.26 L361.73,215.72 L362.67,216.19 L363.62,216.65 L364.56,217.12 L365.51,217.58 L366.45,218.05 L367.40,218.51 L368.34,218.97 L369.29,219.44 L370.23,219.90 L371.18,220.36 L372.12,220.82 L373.06,221.28 L373.99,221.73 L374.92,222.19 L375.84,222.63 L376.76,223.08 L377.68,223.53 L378.60,223.97 L379.51,224.41 L380.43,224.86 L381.35,225.30 L382.27,225.74 L383.20,226.19 L384.13,226.64 L385.07,227.09 L386.02,227.55 L386.98,228.00 L387.95,228.47 L388.93,228.94 L389.93,229.41 L390.93,229.89 L391.96,230.38 L392.84,230.79 L393.74,231.22 L394.66,231.65 L395.59,232.10 L396.54,232.55 L397.50,233.01 L398.47,233.47 L399.45,233.93 L400.44,234.40 L401.43,234.87 L402.43,235.34 L403.42,235.81 L404.42,236.28 L405.41,236.74 L406.39,237.21 L407.37,237.66 L408.34,238.12 L409.30,238.56 L410.24,239.00 L411.17,239.43 L412.08,239.85 L412.98,240.25 L413.85,240.65 L414.70,241.03 L415.52,241.40 L416.61,241.89 L417.64,242.35 L418.61,242.78 L419.53,243.19 L420.42,243.59 L421.28,243.97 L422.11,244.33 L422.94,244.69 L423.76,245.04 L424.59,245.39 L425.43,245.74 L426.30,246.09 L427.19,246.45 L428.13,246.81 L429.12,247.19 L430.17,247.59 L431.28,248.00 L432.47,248.44 L433.25,248.72 L434.06,249.01 L434.90,249.31 L435.77,249.62 L436.67,249.93 L437.59,250.25 L438.53,250.58 L439.50,250.91 L440.47,251.24 L441.46,251.58 L442.47,251.92 L443.48,252.26 L444.49,252.60 L445.52,252.94 L446.54,253.28 L447.57,253.61 L448.59,253.95 L449.60,254.28 L450.61,254.61 L451.61,254.93 L452.59,255.25 L453.57,255.55 L454.52,255.86 L455.45,256.15 L456.37,256.43 L457.25,256.71 L458.11,256.97 L458.95,257.23 L459.75,257.47 L460.86,257.79 L461.94,258.11 L462.98,258.40 L463.99,258.68 L464.97,258.94 L465.92,259.19 L466.85,259.43 L467.76,259.66 L468.64,259.88 L469.51,260.09 L470.37,260.29 L471.21,260.49 L472.05,260.68 L472.89,260.87 L473.72,261.05 L474.55,261.24 L475.38,261.42 L476.22,261.60 L477.07,261.79 L477.93,261.98 L478.89,262.19 L479.84,262.40 L480.78,262.60 L481.72,262.80 L482.65,263.00 L483.57,263.19 L484.48,263.38 L485.39,263.56 L486.30,263.74 L487.21,263.91 L488.11,264.08 L489.02,264.25 L489.92,264.41 L490.82,264.56 L491.73,264.71 L492.64,264.86 L493.55,265.00 L494.47,265.13 L495.41,265.26 L496.39,265.38 L497.41,265.50 L498.46,265.62 L499.52,265.73 L500.59,265.83 L501.66,265.93 L502.72,266.02 L503.77,266.11 L504.79,266.20 L505.77,266.28 L506.71,266.35 L507.61,266.43 L508.44,266.49 L509.20,266.55 L509.89,266.61 L510.49,266.66 L511.00,266.70" fill="none" stroke="#6a5ad8" stroke-width="0.9" stroke-linejoin="round" opacity="1"/>
<path d="M312.60,191.00 L313.12,191.25 L313.72,191.54 L314.39,191.86 L315.14,192.22 L315.95,192.60 L316.82,193.02 L317.74,193.46 L318.71,193.92 L319.71,194.40 L320.75,194.90 L321.81,195.40 L322.90,195.92 L323.99,196.45 L325.09,196.98 L326.19,197.51 L327.29,198.04 L328.37,198.56 L329.43,199.07 L330.47,199.58 L331.47,200.07 L332.44,200.54 L333.38,201.01 L334.33,201.48 L335.27,201.95 L336.22,202.42 L337.16,202.89 L338.11,203.36 L339.05,203.84 L340.00,204.31 L340.94,204.79 L341.89,205.27 L342.83,205.75 L343.78,206.23 L344.72,206.70 L345.67,207.18 L346.61,207.66 L347.56,208.14 L348.50,208.61 L349.45,209.09 L350.39,209.56 L351.34,210.03 L352.28,210.50 L353.22,210.97 L354.17,211.44 L355.11,211.91 L356.06,212.38 L357.00,212.85 L357.95,213.32 L358.89,213.79 L359.84,214.26 L360.78,214.72 L361.73,215.19 L362.67,215.66 L363.62,216.12 L364.56,216.59 L365.51,217.06 L366.45,217.52 L367.40,217.98 L368.34,218.45 L369.29,218.91 L370.23,219.37 L371.18,219.83 L372.12,220.30 L373.06,220.75 L373.99,221.21 L374.92,221.66 L375.84,222.11 L376.76,222.55 L377.68,223.00 L378.60,223.44 L379.51,223.89 L380.43,224.33 L381.35,224.77 L382.27,225.22 L383.20,225.66 L384.13,226.11 L385.07,226.56 L386.02,227.02 L386.98,227.48 L387.95,227.94 L388.93,228.41 L389.93,228.88 L390.93,229.36 L391.96,229.85 L392.84,230.27 L393.74,230.69 L394.66,231.13 L395.59,231.57 L396.54,232.02 L397.50,232.48 L398.47,232.94 L399.45,233.41 L400.44,233.88 L401.43,234.35 L402.43,234.82 L403.42,235.29 L404.42,235.75 L405.41,236.22 L406.39,236.68 L407.37,237.14 L408.34,237.59 L409.30,238.04 L410.24,238.47 L411.17,238.90 L412.08,239.32 L412.98,239.73 L413.85,240.12 L414.70,240.51 L415.52,240.88 L416.61,241.36 L417.64,241.82 L418.61,242.26 L419.53,242.67 L420.42,243.06 L421.28,243.44 L422.11,243.81 L422.94,244.17 L423.76,244.52 L424.59,244.87 L425.43,245.21 L426.30,245.56 L427.19,245.92 L428.13,246.29 L429.12,246.67 L430.17,247.06 L431.28,247.48 L432.47,247.91 L433.25,248.19 L434.06,248.48 L434.90,248.78 L435.77,249.09 L436.67,249.40 L437.59,249.73 L438.53,250.05 L439.50,250.38 L440.47,250.72 L441.46,251.05 L442.47,251.39 L443.48,251.73 L444.49,252.07 L445.52,252.41 L446.54,252.75 L447.57,253.09 L448.59,253.42 L449.60,253.76 L450.61,254.08 L451.61,254.40 L452.59,254.72 L453.57,255.03 L454.52,255.33 L455.45,255.63 L456.37,255.91 L457.25,256.18 L458.11,256.45 L458.95,256.70 L459.75,256.94 L460.86,257.27 L461.94,257.58 L462.98,257.87 L463.99,258.15 L464.97,258.42 L465.92,258.67 L466.85,258.91 L467.76,259.14 L468.64,259.36 L469.51,259.56 L470.37,259.77 L471.21,259.96 L472.05,260.16 L472.89,260.34 L473.72,260.53 L474.55,260.71 L475.38,260.89 L476.22,261.08 L477.07,261.27 L477.93,261.45 L478.89,261.67 L479.84,261.87 L480.78,262.08 L481.72,262.28 L482.65,262.47 L483.57,262.66 L484.48,262.85 L485.39,263.04 L486.30,263.21 L487.21,263.39 L488.11,263.56 L489.02,263.72 L489.92,263.88 L490.82,264.04 L491.73,264.19 L492.64,264.33 L493.55,264.47 L494.47,264.61 L495.41,264.73 L496.39,264.86 L497.41,264.98 L498.46,265.09 L499.52,265.20 L500.59,265.31 L501.66,265.40 L502.72,265.50 L503.77,265.59 L504.79,265.67 L505.77,265.75 L506.71,265.83 L507.61,265.90 L508.44,265.97 L509.20,266.03 L509.89,266.08 L510.49,266.13 L511.00,266.18" fill="none" stroke="#4058c8" stroke-width="0.9" stroke-linejoin="round" opacity="1"/>
<path d="M312.60,191.00 L313.12,191.24 L313.72,191.52 L314.39,191.83 L315.14,192.18 L315.95,192.55 L316.82,192.95 L317.74,193.38 L318.71,193.83 L319.71,194.29 L320.75,194.77 L321.81,195.26 L322.90,195.77 L323.99,196.27 L325.09,196.79 L326.19,197.30 L327.29,197.81 L328.37,198.32 L329.43,198.82 L330.47,199.31 L331.47,199.78 L332.44,200.24 L333.38,200.69 L334.33,201.14 L335.27,201.60 L336.22,202.05 L337.16,202.51 L338.11,202.97 L339.05,203.43 L340.00,203.88 L340.94,204.35 L341.89,204.81 L342.83,205.27 L343.78,205.73 L344.72,206.19 L345.67,206.66 L346.61,207.12 L347.56,207.58 L348.50,208.05 L349.45,208.51 L350.39,208.97 L351.34,209.44 L352.28,209.90 L353.22,210.36 L354.17,210.83 L355.11,211.29 L356.06,211.76 L357.00,212.22 L357.95,212.69 L358.89,213.16 L359.84,213.62 L360.78,214.09 L361.73,214.56 L362.67,215.02 L363.62,215.49 L364.56,215.96 L365.51,216.42 L366.45,216.89 L367.40,217.35 L368.34,217.82 L369.29,218.28 L370.23,218.74 L371.18,219.20 L372.12,219.67 L373.06,220.12 L373.99,220.58 L374.92,221.03 L375.84,221.48 L376.76,221.92 L377.68,222.37 L378.60,222.81 L379.51,223.25 L380.43,223.70 L381.35,224.14 L382.27,224.59 L383.20,225.03 L384.13,225.48 L385.07,225.93 L386.02,226.39 L386.98,226.85 L387.95,227.31 L388.93,227.78 L389.93,228.25 L390.93,228.73 L391.96,229.22 L392.84,229.64 L393.74,230.06 L394.66,230.50 L395.59,230.94 L396.54,231.39 L397.50,231.85 L398.47,232.31 L399.45,232.78 L400.44,233.25 L401.43,233.72 L402.43,234.19 L403.42,234.66 L404.42,235.12 L405.41,235.59 L406.39,236.05 L407.37,236.51 L408.34,236.96 L409.30,237.41 L410.24,237.84 L411.17,238.27 L412.08,238.69 L412.98,239.10 L413.85,239.49 L414.70,239.88 L415.52,240.25 L416.61,240.73 L417.64,241.19 L418.61,241.63 L419.53,242.04 L420.42,242.43 L421.28,242.81 L422.11,243.18 L422.94,243.54 L423.76,243.89 L424.59,244.24 L425.43,244.58 L426.30,244.94 L427.19,245.29 L428.13,245.66 L429.12,246.04 L430.17,246.43 L431.28,246.85 L432.47,247.28 L433.25,247.56 L434.06,247.85 L434.90,248.15 L435.77,248.46 L436.67,248.77 L437.59,249.10 L438.53,249.42 L439.50,249.75 L440.47,250.09 L441.46,250.42 L442.47,250.76 L443.48,251.10 L444.49,251.44 L445.52,251.78 L446.54,252.12 L447.57,252.46 L448.59,252.79 L449.60,253.13 L450.61,253.45 L451.61,253.77 L452.59,254.09 L453.57,254.40 L454.52,254.70 L455.45,255.00 L456.37,255.28 L457.25,255.55 L458.11,255.82 L458.95,256.07 L459.75,256.31 L460.86,256.64 L461.94,256.95 L462.98,257.24 L463.99,257.52 L464.97,257.79 L465.92,258.04 L466.85,258.28 L467.76,258.51 L468.64,258.73 L469.51,258.94 L470.37,259.14 L471.21,259.33 L472.05,259.53 L472.89,259.71 L473.72,259.90 L474.55,260.08 L475.38,260.26 L476.22,260.45 L477.07,260.64 L477.93,260.82 L478.89,261.04 L479.84,261.24 L480.78,261.45 L481.72,261.65 L482.65,261.84 L483.57,262.03 L484.48,262.22 L485.39,262.41 L486.30,262.58 L487.21,262.76 L488.11,262.93 L489.02,263.09 L489.92,263.25 L490.82,263.41 L491.73,263.56 L492.64,263.70 L493.55,263.84 L494.47,263.98 L495.41,264.10 L496.39,264.23 L497.41,264.35 L498.46,264.46 L499.52,264.57 L500.59,264.68 L501.66,264.77 L502.72,264.87 L503.77,264.96 L504.79,265.04 L505.77,265.12 L506.71,265.20 L507.61,265.27 L508.44,265.34 L509.20,265.40 L509.89,265.45 L510.49,265.50 L511.00,265.55" fill="none" stroke="#7cca4c" stroke-width="1.7" stroke-linejoin="round" opacity="1"/>
<text x="69.10" y="179.10" font-family="Liberation Mono, monospace" font-size="4.4" fill="#333" textLength="32.8" lengthAdjust="spacingAndGlyphs">TS Diff. Limit</text>
<line x1="69.00" y1="180.60" x2="69.00" y2="195.80" stroke="#1e1e1e" stroke-width="0.8"/>
<line x1="71.35" y1="180.60" x2="71.35" y2="196.40" stroke="#1e1e1e" stroke-width="0.8"/>
<text x="74.10" y="183.30" font-family="Liberation Mono, monospace" font-size="4.4" fill="#333" textLength="56.2" lengthAdjust="spacingAndGlyphs">TS -0.0000, 0.4000 (deg)</text>
<line x1="74.00" y1="184.80" x2="74.00" y2="203.50" stroke="#3a58d0" stroke-width="0.8"/>
<line x1="76.35" y1="184.80" x2="76.35" y2="204.10" stroke="#3a58d0" stroke-width="0.8"/>
<text x="79.10" y="187.40" font-family="Liberation Mono, monospace" font-size="4.4" fill="#333" textLength="56.2" lengthAdjust="spacingAndGlyphs">TS -0.0000, 0.5433 (deg)</text>
<line x1="79.00" y1="188.90" x2="79.00" y2="210.50" stroke="#78c848" stroke-width="0.8"/>
<line x1="81.35" y1="188.90" x2="81.35" y2="211.10" stroke="#78c848" stroke-width="0.8"/>
<text x="134.80" y="179.10" font-family="Liberation Mono, monospace" font-size="4.4" fill="#333" textLength="56.2" lengthAdjust="spacingAndGlyphs">TS -0.1433, 0.5433 (deg)</text>
<line x1="134.70" y1="180.60" x2="134.70" y2="260.50" stroke="#f02030" stroke-width="0.8"/>
<line x1="137.05" y1="180.60" x2="137.05" y2="261.10" stroke="#f02030" stroke-width="0.8"/>
<text x="139.80" y="183.30" font-family="Liberation Mono, monospace" font-size="4.4" fill="#333" textLength="53.8" lengthAdjust="spacingAndGlyphs">TS 0.1433, 0.4000 (deg)</text>
<line x1="139.70" y1="184.80" x2="139.70" y2="281.80" stroke="#c8c020" stroke-width="0.8"/>
<line x1="142.05" y1="184.80" x2="142.05" y2="282.40" stroke="#c8c020" stroke-width="0.8"/>
<text x="144.80" y="187.40" font-family="Liberation Mono, monospace" font-size="4.4" fill="#333" textLength="53.8" lengthAdjust="spacingAndGlyphs">TS 0.1433, 0.5433 (deg)</text>
<line x1="144.70" y1="188.90" x2="144.70" y2="258.50" stroke="#c050c0" stroke-width="0.8"/>
<line x1="147.05" y1="188.90" x2="147.05" y2="259.10" stroke="#c050c0" stroke-width="0.8"/>
<text x="201.10" y="179.10" font-family="Liberation Mono, monospace" font-size="4.4" fill="#333" textLength="53.8" lengthAdjust="spacingAndGlyphs">TS 0.1433, 0.6865 (deg)</text>
<line x1="201.00" y1="180.60" x2="201.00" y2="295.00" stroke="#68d0e8" stroke-width="0.8"/>
<line x1="203.35" y1="180.60" x2="203.35" y2="295.60" stroke="#68d0e8" stroke-width="0.8"/>
<text x="206.10" y="183.30" font-family="Liberation Mono, monospace" font-size="4.4" fill="#333" textLength="56.2" lengthAdjust="spacingAndGlyphs">TS -0.1433, 0.6865 (deg)</text>
<line x1="206.00" y1="184.80" x2="206.00" y2="294.50" stroke="#6a62d8" stroke-width="0.8"/>
<line x1="208.35" y1="184.80" x2="208.35" y2="295.10" stroke="#6a62d8" stroke-width="0.8"/>
<text x="211.10" y="187.40" font-family="Liberation Mono, monospace" font-size="4.4" fill="#333" textLength="56.2" lengthAdjust="spacingAndGlyphs">TS -0.0000, 0.6865 (deg)</text>
<line x1="211.00" y1="188.90" x2="211.00" y2="288.50" stroke="#78c848" stroke-width="0.8"/>
<line x1="213.35" y1="188.90" x2="213.35" y2="289.10" stroke="#78c848" stroke-width="0.8"/>
<text x="322.30" y="179.10" font-family="Liberation Mono, monospace" font-size="4.4" fill="#333" textLength="32.8" lengthAdjust="spacingAndGlyphs">TS Diff. Limit</text>
<line x1="322.20" y1="180.60" x2="322.20" y2="195.50" stroke="#1e1e1e" stroke-width="0.8"/>
<line x1="324.55" y1="180.60" x2="324.55" y2="196.10" stroke="#1e1e1e" stroke-width="0.8"/>
<text x="327.30" y="183.30" font-family="Liberation Mono, monospace" font-size="4.4" fill="#333" textLength="56.2" lengthAdjust="spacingAndGlyphs">TS -0.0000, 0.4000 (deg)</text>
<line x1="327.20" y1="184.80" x2="327.20" y2="197.50" stroke="#3a58d0" stroke-width="0.8"/>
<line x1="329.55" y1="184.80" x2="329.55" y2="198.10" stroke="#3a58d0" stroke-width="0.8"/>
<text x="332.30" y="187.40" font-family="Liberation Mono, monospace" font-size="4.4" fill="#333" textLength="56.2" lengthAdjust="spacingAndGlyphs">TS -0.0000, 0.5433 (deg)</text>
<line x1="332.20" y1="188.90" x2="332.20" y2="200.50" stroke="#78c848" stroke-width="0.8"/>
<line x1="334.55" y1="188.90" x2="334.55" y2="201.10" stroke="#78c848" stroke-width="0.8"/>
<text x="389.00" y="179.10" font-family="Liberation Mono, monospace" font-size="4.4" fill="#333" textLength="56.2" lengthAdjust="spacingAndGlyphs">TS -0.1433, 0.5433 (deg)</text>
<line x1="388.90" y1="180.60" x2="388.90" y2="226.50" stroke="#f02030" stroke-width="0.8"/>
<line x1="391.25" y1="180.60" x2="391.25" y2="227.10" stroke="#f02030" stroke-width="0.8"/>
<text x="394.00" y="183.30" font-family="Liberation Mono, monospace" font-size="4.4" fill="#333" textLength="53.8" lengthAdjust="spacingAndGlyphs">TS 0.1433, 0.4000 (deg)</text>
<line x1="393.90" y1="184.80" x2="393.90" y2="228.00" stroke="#c8c020" stroke-width="0.8"/>
<line x1="396.25" y1="184.80" x2="396.25" y2="228.60" stroke="#c8c020" stroke-width="0.8"/>
<text x="399.00" y="187.40" font-family="Liberation Mono, monospace" font-size="4.4" fill="#333" textLength="53.8" lengthAdjust="spacingAndGlyphs">TS 0.1433, 0.5433 (deg)</text>
<line x1="398.90" y1="188.90" x2="398.90" y2="229.50" stroke="#c050c0" stroke-width="0.8"/>
<line x1="401.25" y1="188.90" x2="401.25" y2="230.10" stroke="#c050c0" stroke-width="0.8"/>
<text x="455.00" y="179.10" font-family="Liberation Mono, monospace" font-size="4.4" fill="#333" textLength="53.8" lengthAdjust="spacingAndGlyphs">TS 0.1433, 0.6865 (deg)</text>
<line x1="454.90" y1="180.60" x2="454.90" y2="254.00" stroke="#68d0e8" stroke-width="0.8"/>
<line x1="457.25" y1="180.60" x2="457.25" y2="254.60" stroke="#68d0e8" stroke-width="0.8"/>
<text x="460.00" y="183.30" font-family="Liberation Mono, monospace" font-size="4.4" fill="#333" textLength="56.2" lengthAdjust="spacingAndGlyphs">TS -0.1433, 0.6865 (deg)</text>
<line x1="459.90" y1="184.80" x2="459.90" y2="256.00" stroke="#6a62d8" stroke-width="0.8"/>
<line x1="462.25" y1="184.80" x2="462.25" y2="256.60" stroke="#6a62d8" stroke-width="0.8"/>
<text x="465.00" y="187.40" font-family="Liberation Mono, monospace" font-size="4.4" fill="#333" textLength="56.2" lengthAdjust="spacingAndGlyphs">TS -0.0000, 0.6865 (deg)</text>
<line x1="464.90" y1="188.90" x2="464.90" y2="258.00" stroke="#78c848" stroke-width="0.8"/>
<line x1="467.25" y1="188.90" x2="467.25" y2="258.60" stroke="#78c848" stroke-width="0.8"/>
<rect x="36.4" y="313.8" width="232.6" height="5.199999999999989" fill="#fff" stroke="#333" stroke-width="1"/>
<text x="152.70" y="317.80" font-family="Liberation Mono, monospace" font-size="4.4" fill="#444" text-anchor="middle" textLength="76.6" lengthAdjust="spacingAndGlyphs">Polychromatic Diffraction MTF</text>
<rect x="289.6" y="313.8" width="232.39999999999998" height="5.199999999999989" fill="#fff" stroke="#333" stroke-width="1"/>
<text x="405.80" y="317.80" font-family="Liberation Mono, monospace" font-size="4.4" fill="#444" text-anchor="middle" textLength="76.6" lengthAdjust="spacingAndGlyphs">Polychromatic Diffraction MTF</text>
<rect x="36.4" y="472" width="232.6" height="5.800000000000011" fill="#fff" stroke="#333" stroke-width="1"/>
<text x="152.70" y="476.60" font-family="Liberation Mono, monospace" font-size="4.4" fill="#444" text-anchor="middle" textLength="47.5" lengthAdjust="spacingAndGlyphs">Wavefront Function</text>
<rect x="289.6" y="472" width="232.39999999999998" height="5.800000000000011" fill="#fff" stroke="#333" stroke-width="1"/>
<text x="405.80" y="476.60" font-family="Liberation Mono, monospace" font-size="4.4" fill="#444" text-anchor="middle" textLength="47.5" lengthAdjust="spacingAndGlyphs">Wavefront Function</text>
<rect x="68" y="340.4" width="122.4" height="123.2" fill="#3d3f98"/>
<rect x="321" y="340.4" width="123" height="123.2" fill="#3d3f98"/>
<path d="M68.9,400.6 a60.3,60.3 0 1,0 120.6,0 a60.3,60.3 0 1,0 -120.6,0 Z M103.7,400.6 a25.5,25.5 0 1,1 51,0 a25.5,25.5 0 1,1 -51,0 Z" fill="url(#wfeE)" fill-rule="evenodd"/>
<g clip-path="url(#annE)"><g filter="url(#blur4)"><ellipse cx="83" cy="400.6" rx="11" ry="40" fill="#3a4aa8"/><ellipse cx="175.4" cy="400.6" rx="11" ry="40" fill="#3a4aa8"/></g></g>
<path d="M322.1,400.6 a60.5,60.5 0 1,0 121,0 a60.5,60.5 0 1,0 -121,0 Z M357,400.6 a25.6,25.6 0 1,1 51.2,0 a25.6,25.6 0 1,1 -51.2,0 Z" fill="url(#wfeF)" fill-rule="evenodd"/>
<rect x="217.4" y="340" width="10.3" height="124" fill="url(#cbar)"/>
<rect x="471" y="340" width="9.8" height="124" fill="url(#cbar)"/>
<text x="258" y="343.20" font-family="Liberation Mono, monospace" font-size="4.8" fill="#444" text-anchor="end" textLength="15.0" lengthAdjust="spacingAndGlyphs">0.1299</text>
<text x="258" y="355.40" font-family="Liberation Mono, monospace" font-size="4.8" fill="#444" text-anchor="end" textLength="15.0" lengthAdjust="spacingAndGlyphs">0.0571</text>
<text x="258" y="367.60" font-family="Liberation Mono, monospace" font-size="4.8" fill="#444" text-anchor="end" textLength="17.5" lengthAdjust="spacingAndGlyphs">-0.0158</text>
<text x="258" y="379.80" font-family="Liberation Mono, monospace" font-size="4.8" fill="#444" text-anchor="end" textLength="17.5" lengthAdjust="spacingAndGlyphs">-0.0886</text>
<text x="258" y="392.00" font-family="Liberation Mono, monospace" font-size="4.8" fill="#444" text-anchor="end" textLength="17.5" lengthAdjust="spacingAndGlyphs">-0.1615</text>
<text x="258" y="404.20" font-family="Liberation Mono, monospace" font-size="4.8" fill="#444" text-anchor="end" textLength="17.5" lengthAdjust="spacingAndGlyphs">-0.2343</text>
<text x="258" y="416.40" font-family="Liberation Mono, monospace" font-size="4.8" fill="#444" text-anchor="end" textLength="17.5" lengthAdjust="spacingAndGlyphs">-0.3072</text>
<text x="258" y="428.60" font-family="Liberation Mono, monospace" font-size="4.8" fill="#444" text-anchor="end" textLength="17.5" lengthAdjust="spacingAndGlyphs">-0.3800</text>
<text x="258" y="440.80" font-family="Liberation Mono, monospace" font-size="4.8" fill="#444" text-anchor="end" textLength="17.5" lengthAdjust="spacingAndGlyphs">-0.4529</text>
<text x="258" y="453.00" font-family="Liberation Mono, monospace" font-size="4.8" fill="#444" text-anchor="end" textLength="17.5" lengthAdjust="spacingAndGlyphs">-0.5257</text>
<text x="258" y="465.20" font-family="Liberation Mono, monospace" font-size="4.8" fill="#444" text-anchor="end" textLength="17.5" lengthAdjust="spacingAndGlyphs">-0.5986</text>
<text x="511" y="343.20" font-family="Liberation Mono, monospace" font-size="4.8" fill="#444" text-anchor="end" textLength="15.0" lengthAdjust="spacingAndGlyphs">0.0364</text>
<text x="511" y="355.40" font-family="Liberation Mono, monospace" font-size="4.8" fill="#444" text-anchor="end" textLength="15.0" lengthAdjust="spacingAndGlyphs">0.0178</text>
<text x="511" y="367.60" font-family="Liberation Mono, monospace" font-size="4.8" fill="#444" text-anchor="end" textLength="17.5" lengthAdjust="spacingAndGlyphs">-0.0008</text>
<text x="511" y="379.80" font-family="Liberation Mono, monospace" font-size="4.8" fill="#444" text-anchor="end" textLength="17.5" lengthAdjust="spacingAndGlyphs">-0.0194</text>
<text x="511" y="392.00" font-family="Liberation Mono, monospace" font-size="4.8" fill="#444" text-anchor="end" textLength="17.5" lengthAdjust="spacingAndGlyphs">-0.0380</text>
<text x="511" y="404.20" font-family="Liberation Mono, monospace" font-size="4.8" fill="#444" text-anchor="end" textLength="17.5" lengthAdjust="spacingAndGlyphs">-0.0566</text>
<text x="511" y="416.40" font-family="Liberation Mono, monospace" font-size="4.8" fill="#444" text-anchor="end" textLength="17.5" lengthAdjust="spacingAndGlyphs">-0.0751</text>
<text x="511" y="428.60" font-family="Liberation Mono, monospace" font-size="4.8" fill="#444" text-anchor="end" textLength="17.5" lengthAdjust="spacingAndGlyphs">-0.0937</text>
<text x="511" y="440.80" font-family="Liberation Mono, monospace" font-size="4.8" fill="#444" text-anchor="end" textLength="17.5" lengthAdjust="spacingAndGlyphs">-0.1123</text>
<text x="511" y="453.00" font-family="Liberation Mono, monospace" font-size="4.8" fill="#444" text-anchor="end" textLength="17.5" lengthAdjust="spacingAndGlyphs">-0.1309</text>
<text x="511" y="465.20" font-family="Liberation Mono, monospace" font-size="4.8" fill="#444" text-anchor="end" textLength="17.5" lengthAdjust="spacingAndGlyphs">-0.1495</text>
<text x="151.5" y="488" font-family="Liberation Sans, sans-serif" font-weight="bold" font-size="8.4" fill="#1a1a1a" text-anchor="middle" xml:space="preserve" style="white-space:pre">0.6328 µm at -0.0000, 0.5433 (deg)</text>
<text x="152" y="497.8" font-family="Liberation Sans, sans-serif" font-weight="bold" font-size="8.4" fill="#1a1a1a" text-anchor="middle" xml:space="preserve" style="white-space:pre">Peak to valley = 0.7285 waves, RMS =0.1298 waves.</text>
<text x="151" y="507.5" font-family="Liberation Sans, sans-serif" font-weight="bold" font-size="8.4" fill="#1a1a1a" text-anchor="middle" xml:space="preserve" style="white-space:pre">Surface:  Image</text>
<text x="405.3" y="488" font-family="Liberation Sans, sans-serif" font-weight="bold" font-size="8.4" fill="#1a1a1a" text-anchor="middle" xml:space="preserve" style="white-space:pre">0.6328 µm at -0.0000, 0.5433 (deg)</text>
<text x="406" y="497.8" font-family="Liberation Sans, sans-serif" font-weight="bold" font-size="8.4" fill="#1a1a1a" text-anchor="middle" xml:space="preserve" style="white-space:pre">Peak to valley = 0.1859 waves, RMS =0.0374 waves.</text>
<text x="405.5" y="507.5" font-family="Liberation Sans, sans-serif" font-weight="bold" font-size="8.4" fill="#1a1a1a" text-anchor="middle" xml:space="preserve" style="white-space:pre">Surface:  Image</text></svg>
<canvas id="cE" width="124" height="124" style="position:absolute;left:67px;top:339px;width:124px;height:124px"></canvas>
<canvas id="cF" width="124" height="124" style="position:absolute;left:320px;top:339px;width:124px;height:124px"></canvas>
<script>
(function(){
var ST=[[0,58,58,152],[0.07,48,80,176],[0.12,40,112,192],[0.17,32,144,208],[0.22,32,168,184],[0.27,48,176,144],[0.33,90,182,80],[0.43,128,194,62],[0.53,164,206,52],[0.62,184,214,44],[0.70,210,222,40],[0.77,228,220,36],[0.80,236,190,32],[0.84,240,110,32],[0.88,228,42,36],[0.94,222,32,34],[1,200,28,40]];
function cmap(v){v=Math.max(0,Math.min(1,v));for(var i=1;i<ST.length;i++){if(v<=ST[i][0]){var a=ST[i-1],b=ST[i],t=(v-a[0])/(b[0]-a[0]);return [a[1]+(b[1]-a[1])*t,a[2]+(b[2]-a[2])*t,a[3]+(b[3]-a[3])*t];}}var l=ST[ST.length-1];return [l[1],l[2],l[3]];}
function tg(P,i){var n=P.length;if(i<=0)return (P[1][1]-P[0][1])/(P[1][0]-P[0][0]);if(i>=n-1)return (P[n-1][1]-P[n-2][1])/(P[n-1][0]-P[n-2][0]);return (P[i+1][1]-P[i-1][1])/(P[i+1][0]-P[i-1][0]);}
function pw(P,x){if(x<=P[0][0])return P[0][1];for(var i=1;i<P.length;i++){if(x<=P[i][0]){var a=P[i-1],b=P[i],h=b[0]-a[0],t=(x-a[0])/h,t2=t*t,t3=t2*t;return (2*t3-3*t2+1)*a[1]+(t3-2*t2+t)*h*tg(P,i-1)+(-2*t3+3*t2)*b[1]+(t3-t2)*h*tg(P,i);}}return P[P.length-1][1];}
function ss(a,b,x){var t=Math.max(0,Math.min(1,(x-a)/(b-a)));return t*t*(3-2*t);}
function draw(id,cx,cy,R,ri,fn){
 var c=document.getElementById(id);if(!c||!c.getContext)return;var ctx=c.getContext('2d');var W=c.width,H=c.height;var im=ctx.createImageData(W,H);var d=im.data;var S=3;
 for(var y=0;y<H;y++)for(var x=0;x<W;x++){var r=0,g=0,b=0,n=0;
  for(var sy=0;sy<S;sy++)for(var sx=0;sx<S;sx++){var px=x+(sx+0.5)/S-cx,py=y+(sy+0.5)/S-cy;var rr=Math.sqrt(px*px+py*py);if(rr>R||rr<ri)continue;var rho=rr/R;var th=Math.atan2(-py,px);var col=cmap(fn(rho,th));r+=col[0];g+=col[1];b+=col[2];n++;}
  var k=(y*W+x)*4;if(n>0){d[k]=r/n;d[k+1]=g/n;d[k+2]=b/n;d[k+3]=255*n/(S*S);}}
 ctx.putImageData(im,0,0);}
var bE=[[0.42,0.4000],[0.5,0.3730],[0.55,0.3360],[0.6,0.2850],[0.65,0.2410],[0.7,0.2040],[0.78,0.1805],[0.85,0.2100],[0.9,0.2995],[0.94,0.4300],[0.97,0.5405],[1.0,0.6520]];
var aE=[[0.42,0.0000],[0.5,0.0200],[0.55,0.0400],[0.6,0.1000],[0.65,0.1400],[0.7,0.1600],[0.78,0.1700],[0.85,0.2000],[0.9,0.2300],[0.94,0.2000],[0.97,0.1700],[1.0,0.0800]];
draw('cE',129.2-67,400.6-339,60.3,25.5,function(p,t){var s=Math.sin(t);var c=Math.abs(Math.cos(t));var w=ss(0.1,0.74,c);return pw(bE,p)+pw(aE,p)*(0.35-w)+0.38*Math.pow(Math.max(0,s),3)*ss(0.9,1.0,p)+0.04*Math.pow(Math.max(0,-s),2)*ss(0.88,1.0,p);});
var cF=[[0.42,0.775],[0.6,0.755],[0.8,0.735],[0.9,0.70],[1.0,0.65]];
var tF=[[0.42,0.0],[0.6,0.035],[0.75,0.08],[0.85,0.13],[0.92,0.2],[1.0,0.33]];var tB=[[0.42,0.01],[0.6,0.05],[0.7,0.12],[0.8,0.24],[0.88,0.38],[0.94,0.48],[1.0,0.55]];
draw('cF',382.6-320,400.6-339,60.5,25.6,function(p,t){var s=Math.sin(t);var h=0.032*(1-ss(0.42,0.7,p))*ss(-0.7,0.0,s);return h+(s>0?pw(cF,p)+pw(tF,p)*Math.pow(s,2.5):pw(cF,p)-pw(tB,p)*Math.pow(-s,1.2));});
})();
</script>
</div></body></html>
